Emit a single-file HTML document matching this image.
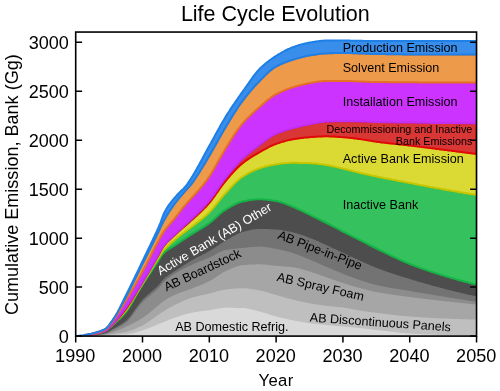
<!DOCTYPE html>
<html lang="en">
<head>
<meta charset="utf-8">
<title>Life Cycle Evolution</title>
<style>html,body{margin:0;padding:0;background:#fff}svg{display:block;will-change:transform;opacity:0.999}</style>
</head>
<body>
<svg width="500" height="391" viewBox="0 0 500 391" font-family="'Liberation Sans', Arial, sans-serif">
<rect width="500" height="391" fill="#ffffff"/>
<defs><clipPath id="ax"><rect x="75.5" y="32.0" width="401.0" height="304.0"/></clipPath></defs>
<g clip-path="url(#ax)" stroke-linejoin="round">
<polygon fill="#4d4d4d" points="75.5,336.0 76.5,336.0 77.5,336.0 78.5,336.0 79.5,336.0 80.5,336.0 81.5,336.0 82.5,336.0 83.5,336.0 84.5,336.0 85.5,336.0 86.5,336.0 87.5,336.0 88.5,334.8 89.5,334.7 90.5,334.6 91.5,334.5 92.5,334.3 93.5,334.1 94.5,334.0 95.5,333.8 96.5,333.6 97.5,333.4 98.5,333.2 99.5,332.9 100.5,332.6 101.5,332.3 102.5,332.0 103.5,331.6 104.5,331.2 105.5,330.7 106.5,330.2 107.5,329.5 108.5,328.7 109.5,327.8 110.5,326.9 111.5,325.9 112.5,325.0 113.5,324.2 114.5,323.3 115.5,322.5 116.5,321.6 117.5,320.7 118.5,319.8 119.5,318.9 120.5,318.0 121.5,317.0 122.5,316.0 123.5,314.9 124.5,313.8 125.5,312.6 126.5,311.3 127.5,309.9 128.5,308.4 129.5,306.8 130.5,305.2 131.5,303.6 132.5,301.9 133.5,300.1 134.5,298.4 135.5,296.6 136.5,294.9 137.5,293.1 138.5,291.4 139.5,289.7 140.5,288.0 141.5,286.5 142.5,284.9 143.5,283.3 144.5,281.8 145.5,280.3 146.5,278.8 147.5,277.3 148.5,275.8 149.5,274.3 150.5,272.8 151.5,271.3 152.5,269.8 153.5,268.3 154.5,266.8 155.5,265.3 156.5,263.7 157.5,262.2 158.5,260.7 159.5,259.0 160.5,257.3 161.5,255.7 162.5,254.4 163.5,253.3 164.5,252.4 165.5,251.5 166.5,250.7 167.5,250.0 168.5,249.3 169.5,248.7 170.5,248.1 171.5,247.5 172.5,246.9 173.5,246.3 174.5,245.6 175.5,245.0 176.5,244.3 177.5,243.6 178.5,242.9 179.5,242.3 180.5,241.6 181.5,240.9 182.5,240.3 183.5,239.6 184.5,239.0 185.5,238.3 186.5,237.7 187.5,237.0 188.5,236.4 189.5,235.7 190.5,235.1 191.5,234.4 192.5,233.8 193.5,233.2 194.5,232.5 195.5,231.9 196.5,231.3 197.5,230.7 198.5,230.1 199.5,229.5 200.5,228.9 201.5,228.3 202.5,227.7 203.5,227.1 204.5,226.4 205.5,225.8 206.5,225.1 207.5,224.4 208.5,223.7 209.5,223.0 210.5,222.2 211.5,221.4 212.5,220.6 213.5,219.7 214.5,218.8 215.5,217.9 216.5,217.0 217.5,216.1 218.5,215.2 219.5,214.3 220.5,213.4 221.5,212.6 222.5,211.8 223.5,211.1 224.5,210.4 225.5,209.8 226.5,209.1 227.5,208.5 228.5,207.9 229.5,207.3 230.5,206.7 231.5,206.1 232.5,205.6 233.5,205.0 234.5,204.5 235.5,204.0 236.5,203.5 237.5,203.1 238.5,202.7 239.5,202.3 240.5,202.0 241.5,201.7 242.5,201.5 243.5,201.3 244.5,201.1 245.5,200.9 246.5,200.7 247.5,200.5 248.5,200.3 249.5,200.1 250.5,200.0 251.5,199.8 252.5,199.7 253.5,199.5 254.5,199.4 255.5,199.4 256.5,199.3 257.5,199.2 258.5,199.2 259.5,199.2 260.5,199.2 261.5,199.2 262.5,199.3 263.5,199.4 264.5,199.4 265.5,199.5 266.5,199.6 267.5,199.7 268.5,199.9 269.5,200.0 270.5,200.1 271.5,200.3 272.5,200.4 273.5,200.6 274.5,200.7 275.5,200.9 276.5,201.1 277.5,201.3 278.5,201.5 279.5,201.7 280.5,202.0 281.5,202.3 282.5,202.7 283.5,203.0 284.5,203.4 285.5,203.8 286.5,204.2 287.5,204.6 288.5,205.0 289.5,205.4 290.5,205.8 291.5,206.2 292.5,206.6 293.5,207.0 294.5,207.5 295.5,207.9 296.5,208.3 297.5,208.8 298.5,209.3 299.5,209.8 300.5,210.2 301.5,210.7 302.5,211.2 303.5,211.7 304.5,212.2 305.5,212.7 306.5,213.2 307.5,213.7 308.5,214.2 309.5,214.7 310.5,215.2 311.5,215.7 312.5,216.2 313.5,216.7 314.5,217.1 315.5,217.6 316.5,218.1 317.5,218.6 318.5,219.0 319.5,219.5 320.5,220.0 321.5,220.5 322.5,221.0 323.5,221.5 324.5,222.0 325.5,222.5 326.5,223.0 327.5,223.5 328.5,224.0 329.5,224.5 330.5,225.0 331.5,225.5 332.5,226.1 333.5,226.6 334.5,227.1 335.5,227.6 336.5,228.2 337.5,228.7 338.5,229.2 339.5,229.7 340.5,230.3 341.5,230.8 342.5,231.3 343.5,231.8 344.5,232.3 345.5,232.8 346.5,233.3 347.5,233.8 348.5,234.3 349.5,234.8 350.5,235.4 351.5,235.9 352.5,236.4 353.5,236.8 354.5,237.3 355.5,237.8 356.5,238.4 357.5,238.9 358.5,239.4 359.5,239.9 360.5,240.4 361.5,240.9 362.5,241.4 363.5,241.9 364.5,242.4 365.5,242.9 366.5,243.4 367.5,244.0 368.5,244.5 369.5,245.0 370.5,245.5 371.5,246.0 372.5,246.5 373.5,247.0 374.5,247.5 375.5,248.0 376.5,248.5 377.5,249.0 378.5,249.5 379.5,250.0 380.5,250.5 381.5,251.0 382.5,251.4 383.5,251.9 384.5,252.4 385.5,252.9 386.5,253.4 387.5,253.9 388.5,254.4 389.5,254.9 390.5,255.4 391.5,255.8 392.5,256.3 393.5,256.8 394.5,257.3 395.5,257.7 396.5,258.2 397.5,258.7 398.5,259.1 399.5,259.6 400.5,260.0 401.5,260.5 402.5,260.9 403.5,261.4 404.5,261.8 405.5,262.2 406.5,262.6 407.5,263.0 408.5,263.5 409.5,263.9 410.5,264.3 411.5,264.6 412.5,265.0 413.5,265.4 414.5,265.8 415.5,266.2 416.5,266.5 417.5,266.9 418.5,267.3 419.5,267.7 420.5,268.0 421.5,268.4 422.5,268.7 423.5,269.1 424.5,269.4 425.5,269.8 426.5,270.1 427.5,270.5 428.5,270.8 429.5,271.1 430.5,271.5 431.5,271.8 432.5,272.1 433.5,272.4 434.5,272.8 435.5,273.1 436.5,273.4 437.5,273.7 438.5,274.0 439.5,274.4 440.5,274.7 441.5,275.0 442.5,275.3 443.5,275.6 444.5,275.9 445.5,276.2 446.5,276.5 447.5,276.8 448.5,277.1 449.5,277.4 450.5,277.7 451.5,278.0 452.5,278.2 453.5,278.5 454.5,278.8 455.5,279.1 456.5,279.4 457.5,279.7 458.5,279.9 459.5,280.2 460.5,280.5 461.5,280.8 462.5,281.0 463.5,281.3 464.5,281.6 465.5,281.8 466.5,282.1 467.5,282.3 468.5,282.6 469.5,282.9 470.5,283.1 471.5,283.4 472.5,283.6 473.5,283.9 474.5,284.1 475.5,284.3 476.5,284.6 479.5,336.0 75.5,336.0"/>
<polygon fill="#737373" points="75.5,336.0 76.5,336.0 77.5,336.0 78.5,336.0 79.5,336.0 80.5,336.0 81.5,336.0 82.5,336.0 83.5,336.0 84.5,336.0 85.5,336.0 86.5,336.0 87.5,336.0 88.5,335.9 89.5,335.8 90.5,335.7 91.5,335.7 92.5,335.5 93.5,335.4 94.5,335.3 95.5,335.2 96.5,335.1 97.5,334.9 98.5,334.8 99.5,334.6 100.5,334.4 101.5,334.2 102.5,334.0 103.5,333.7 104.5,333.4 105.5,333.1 106.5,332.8 107.5,332.4 108.5,331.8 109.5,331.2 110.5,330.6 111.5,329.9 112.5,329.3 113.5,328.7 114.5,328.1 115.5,327.5 116.5,326.9 117.5,326.4 118.5,325.8 119.5,325.2 120.5,324.6 121.5,324.0 122.5,323.3 123.5,322.6 124.5,321.9 125.5,321.1 126.5,320.2 127.5,319.2 128.5,318.2 129.5,317.0 130.5,315.7 131.5,314.4 132.5,313.1 133.5,311.7 134.5,310.3 135.5,308.8 136.5,307.4 137.5,306.0 138.5,304.7 139.5,303.4 140.5,302.1 141.5,300.9 142.5,299.8 143.5,298.8 144.5,297.8 145.5,296.9 146.5,295.9 147.5,295.0 148.5,294.2 149.5,293.3 150.5,292.5 151.5,291.6 152.5,290.8 153.5,289.9 154.5,289.0 155.5,288.1 156.5,287.2 157.5,286.2 158.5,285.2 159.5,284.1 160.5,282.9 161.5,281.6 162.5,280.3 163.5,279.2 164.5,278.3 165.5,277.5 166.5,276.7 167.5,275.9 168.5,275.2 169.5,274.5 170.5,273.9 171.5,273.2 172.5,272.6 173.5,272.0 174.5,271.3 175.5,270.7 176.5,270.0 177.5,269.3 178.5,268.7 179.5,268.0 180.5,267.4 181.5,266.7 182.5,266.1 183.5,265.4 184.5,264.8 185.5,264.2 186.5,263.6 187.5,262.9 188.5,262.3 189.5,261.7 190.5,261.1 191.5,260.6 192.5,260.0 193.5,259.4 194.5,258.9 195.5,258.3 196.5,257.8 197.5,257.3 198.5,256.8 199.5,256.3 200.5,255.8 201.5,255.3 202.5,254.8 203.5,254.3 204.5,253.7 205.5,253.2 206.5,252.7 207.5,252.1 208.5,251.6 209.5,251.0 210.5,250.4 211.5,249.8 212.5,249.2 213.5,248.5 214.5,247.9 215.5,247.2 216.5,246.5 217.5,245.8 218.5,245.2 219.5,244.5 220.5,243.8 221.5,243.2 222.5,242.5 223.5,241.9 224.5,241.3 225.5,240.7 226.5,240.1 227.5,239.6 228.5,239.0 229.5,238.4 230.5,237.8 231.5,237.2 232.5,236.6 233.5,236.0 234.5,235.5 235.5,234.9 236.5,234.4 237.5,233.9 238.5,233.5 239.5,233.0 240.5,232.7 241.5,232.3 242.5,232.0 243.5,231.8 244.5,231.5 245.5,231.2 246.5,231.0 247.5,230.7 248.5,230.5 249.5,230.3 250.5,230.0 251.5,229.8 252.5,229.6 253.5,229.5 254.5,229.3 255.5,229.2 256.5,229.1 257.5,229.1 258.5,229.0 259.5,229.0 260.5,229.0 261.5,229.0 262.5,229.0 263.5,229.0 264.5,229.1 265.5,229.1 266.5,229.1 267.5,229.1 268.5,229.2 269.5,229.2 270.5,229.2 271.5,229.3 272.5,229.3 273.5,229.4 274.5,229.4 275.5,229.5 276.5,229.5 277.5,229.6 278.5,229.7 279.5,229.8 280.5,229.9 281.5,230.1 282.5,230.2 283.5,230.4 284.5,230.6 285.5,230.8 286.5,231.0 287.5,231.2 288.5,231.4 289.5,231.6 290.5,231.8 291.5,232.0 292.5,232.3 293.5,232.5 294.5,232.7 295.5,233.0 296.5,233.3 297.5,233.6 298.5,233.9 299.5,234.2 300.5,234.5 301.5,234.9 302.5,235.2 303.5,235.6 304.5,236.0 305.5,236.3 306.5,236.7 307.5,237.1 308.5,237.5 309.5,237.8 310.5,238.2 311.5,238.6 312.5,239.0 313.5,239.4 314.5,239.8 315.5,240.3 316.5,240.7 317.5,241.1 318.5,241.6 319.5,242.0 320.5,242.5 321.5,242.9 322.5,243.4 323.5,243.8 324.5,244.3 325.5,244.7 326.5,245.2 327.5,245.6 328.5,246.1 329.5,246.5 330.5,247.0 331.5,247.5 332.5,247.9 333.5,248.4 334.5,248.9 335.5,249.3 336.5,249.8 337.5,250.3 338.5,250.8 339.5,251.2 340.5,251.7 341.5,252.2 342.5,252.6 343.5,253.1 344.5,253.6 345.5,254.0 346.5,254.5 347.5,255.0 348.5,255.4 349.5,255.9 350.5,256.4 351.5,256.8 352.5,257.3 353.5,257.8 354.5,258.2 355.5,258.7 356.5,259.1 357.5,259.6 358.5,260.0 359.5,260.5 360.5,260.9 361.5,261.4 362.5,261.8 363.5,262.3 364.5,262.7 365.5,263.2 366.5,263.7 367.5,264.1 368.5,264.6 369.5,265.0 370.5,265.4 371.5,265.9 372.5,266.3 373.5,266.7 374.5,267.1 375.5,267.5 376.5,267.9 377.5,268.3 378.5,268.7 379.5,269.0 380.5,269.4 381.5,269.8 382.5,270.1 383.5,270.5 384.5,270.8 385.5,271.2 386.5,271.5 387.5,271.9 388.5,272.2 389.5,272.6 390.5,272.9 391.5,273.2 392.5,273.6 393.5,273.9 394.5,274.2 395.5,274.6 396.5,274.9 397.5,275.2 398.5,275.5 399.5,275.8 400.5,276.2 401.5,276.5 402.5,276.8 403.5,277.1 404.5,277.4 405.5,277.7 406.5,278.0 407.5,278.3 408.5,278.6 409.5,278.9 410.5,279.3 411.5,279.6 412.5,279.9 413.5,280.2 414.5,280.5 415.5,280.8 416.5,281.1 417.5,281.4 418.5,281.7 419.5,282.0 420.5,282.3 421.5,282.6 422.5,282.8 423.5,283.1 424.5,283.4 425.5,283.7 426.5,284.0 427.5,284.3 428.5,284.6 429.5,284.8 430.5,285.1 431.5,285.4 432.5,285.7 433.5,285.9 434.5,286.2 435.5,286.5 436.5,286.8 437.5,287.0 438.5,287.3 439.5,287.6 440.5,287.8 441.5,288.1 442.5,288.3 443.5,288.6 444.5,288.9 445.5,289.1 446.5,289.4 447.5,289.6 448.5,289.9 449.5,290.1 450.5,290.4 451.5,290.6 452.5,290.9 453.5,291.1 454.5,291.4 455.5,291.6 456.5,291.9 457.5,292.1 458.5,292.3 459.5,292.6 460.5,292.8 461.5,293.0 462.5,293.3 463.5,293.5 464.5,293.7 465.5,294.0 466.5,294.2 467.5,294.4 468.5,294.7 469.5,294.9 470.5,295.1 471.5,295.3 472.5,295.5 473.5,295.8 474.5,296.0 475.5,296.2 476.5,296.4 479.5,336.0 75.5,336.0"/>
<polygon fill="#8c8c8c" points="75.5,336.0 76.5,336.0 77.5,336.0 78.5,336.0 79.5,336.0 80.5,336.0 81.5,336.0 82.5,336.0 83.5,336.0 84.5,336.0 85.5,336.0 86.5,336.0 87.5,336.0 88.5,335.9 89.5,335.9 90.5,335.8 91.5,335.7 92.5,335.6 93.5,335.5 94.5,335.4 95.5,335.3 96.5,335.2 97.5,335.1 98.5,334.9 99.5,334.8 100.5,334.6 101.5,334.4 102.5,334.2 103.5,334.0 104.5,333.8 105.5,333.5 106.5,333.2 107.5,332.9 108.5,332.4 109.5,331.9 110.5,331.3 111.5,330.8 112.5,330.2 113.5,329.7 114.5,329.2 115.5,328.7 116.5,328.2 117.5,327.7 118.5,327.3 119.5,326.7 120.5,326.2 121.5,325.7 122.5,325.1 123.5,324.5 124.5,323.8 125.5,323.1 126.5,322.3 127.5,321.4 128.5,320.3 129.5,319.2 130.5,318.0 131.5,316.7 132.5,315.4 133.5,314.0 134.5,312.6 135.5,311.2 136.5,309.8 137.5,308.4 138.5,307.1 139.5,305.8 140.5,304.6 141.5,303.4 142.5,302.3 143.5,301.3 144.5,300.4 145.5,299.4 146.5,298.5 147.5,297.7 148.5,296.8 149.5,296.0 150.5,295.2 151.5,294.3 152.5,293.5 153.5,292.7 154.5,291.8 155.5,290.9 156.5,290.0 157.5,289.1 158.5,288.1 159.5,287.0 160.5,285.8 161.5,284.5 162.5,283.3 163.5,282.2 164.5,281.3 165.5,280.4 166.5,279.5 167.5,278.7 168.5,277.9 169.5,277.2 170.5,276.4 171.5,275.7 172.5,275.1 173.5,274.4 174.5,273.8 175.5,273.2 176.5,272.5 177.5,272.0 178.5,271.4 179.5,270.8 180.5,270.3 181.5,269.8 182.5,269.2 183.5,268.7 184.5,268.2 185.5,267.7 186.5,267.3 187.5,266.8 188.5,266.3 189.5,265.9 190.5,265.4 191.5,264.9 192.5,264.5 193.5,264.0 194.5,263.6 195.5,263.2 196.5,262.7 197.5,262.3 198.5,261.9 199.5,261.5 200.5,261.1 201.5,260.7 202.5,260.3 203.5,259.9 204.5,259.5 205.5,259.1 206.5,258.7 207.5,258.3 208.5,257.9 209.5,257.5 210.5,257.0 211.5,256.5 212.5,256.0 213.5,255.5 214.5,254.9 215.5,254.4 216.5,253.8 217.5,253.3 218.5,252.8 219.5,252.3 220.5,251.8 221.5,251.4 222.5,251.0 223.5,250.6 224.5,250.3 225.5,250.1 226.5,249.9 227.5,249.7 228.5,249.5 229.5,249.4 230.5,249.3 231.5,249.1 232.5,249.0 233.5,248.9 234.5,248.8 235.5,248.7 236.5,248.6 237.5,248.5 238.5,248.4 239.5,248.3 240.5,248.2 241.5,248.1 242.5,248.0 243.5,247.9 244.5,247.8 245.5,247.7 246.5,247.6 247.5,247.5 248.5,247.4 249.5,247.2 250.5,247.1 251.5,247.0 252.5,246.9 253.5,246.9 254.5,246.8 255.5,246.7 256.5,246.7 257.5,246.6 258.5,246.6 259.5,246.6 260.5,246.6 261.5,246.7 262.5,246.7 263.5,246.8 264.5,246.9 265.5,247.0 266.5,247.2 267.5,247.3 268.5,247.5 269.5,247.6 270.5,247.8 271.5,248.0 272.5,248.2 273.5,248.4 274.5,248.5 275.5,248.7 276.5,248.9 277.5,249.1 278.5,249.3 279.5,249.5 280.5,249.7 281.5,249.9 282.5,250.2 283.5,250.4 284.5,250.7 285.5,250.9 286.5,251.2 287.5,251.5 288.5,251.8 289.5,252.0 290.5,252.3 291.5,252.6 292.5,252.9 293.5,253.2 294.5,253.6 295.5,253.9 296.5,254.3 297.5,254.6 298.5,255.0 299.5,255.4 300.5,255.8 301.5,256.2 302.5,256.6 303.5,257.0 304.5,257.5 305.5,257.9 306.5,258.3 307.5,258.7 308.5,259.1 309.5,259.5 310.5,259.9 311.5,260.4 312.5,260.8 313.5,261.2 314.5,261.6 315.5,262.1 316.5,262.5 317.5,262.9 318.5,263.4 319.5,263.8 320.5,264.3 321.5,264.7 322.5,265.1 323.5,265.6 324.5,266.0 325.5,266.4 326.5,266.9 327.5,267.3 328.5,267.7 329.5,268.1 330.5,268.6 331.5,269.0 332.5,269.4 333.5,269.8 334.5,270.3 335.5,270.7 336.5,271.1 337.5,271.5 338.5,271.9 339.5,272.4 340.5,272.8 341.5,273.2 342.5,273.6 343.5,274.0 344.5,274.4 345.5,274.8 346.5,275.2 347.5,275.5 348.5,275.9 349.5,276.3 350.5,276.7 351.5,277.1 352.5,277.5 353.5,277.9 354.5,278.2 355.5,278.6 356.5,279.0 357.5,279.3 358.5,279.6 359.5,280.0 360.5,280.3 361.5,280.7 362.5,281.0 363.5,281.3 364.5,281.6 365.5,282.0 366.5,282.3 367.5,282.6 368.5,282.9 369.5,283.2 370.5,283.5 371.5,283.8 372.5,284.1 373.5,284.3 374.5,284.6 375.5,284.8 376.5,285.1 377.5,285.3 378.5,285.5 379.5,285.7 380.5,285.9 381.5,286.1 382.5,286.3 383.5,286.5 384.5,286.7 385.5,286.9 386.5,287.1 387.5,287.3 388.5,287.5 389.5,287.7 390.5,287.8 391.5,288.0 392.5,288.2 393.5,288.3 394.5,288.5 395.5,288.7 396.5,288.8 397.5,289.0 398.5,289.2 399.5,289.3 400.5,289.5 401.5,289.6 402.5,289.8 403.5,290.0 404.5,290.1 405.5,290.3 406.5,290.5 407.5,290.6 408.5,290.8 409.5,291.0 410.5,291.1 411.5,291.3 412.5,291.5 413.5,291.7 414.5,291.8 415.5,292.0 416.5,292.2 417.5,292.3 418.5,292.5 419.5,292.7 420.5,292.8 421.5,293.0 422.5,293.2 423.5,293.3 424.5,293.5 425.5,293.6 426.5,293.8 427.5,294.0 428.5,294.1 429.5,294.3 430.5,294.5 431.5,294.6 432.5,294.8 433.5,295.0 434.5,295.1 435.5,295.3 436.5,295.4 437.5,295.6 438.5,295.8 439.5,295.9 440.5,296.1 441.5,296.2 442.5,296.4 443.5,296.6 444.5,296.7 445.5,296.9 446.5,297.1 447.5,297.2 448.5,297.4 449.5,297.5 450.5,297.7 451.5,297.9 452.5,298.0 453.5,298.2 454.5,298.3 455.5,298.5 456.5,298.7 457.5,298.8 458.5,299.0 459.5,299.1 460.5,299.3 461.5,299.4 462.5,299.6 463.5,299.8 464.5,299.9 465.5,300.1 466.5,300.2 467.5,300.4 468.5,300.5 469.5,300.7 470.5,300.9 471.5,301.0 472.5,301.2 473.5,301.3 474.5,301.5 475.5,301.6 476.5,301.8 479.5,336.0 75.5,336.0"/>
<polygon fill="#a6a6a6" points="75.5,336.0 76.5,336.0 77.5,336.0 78.5,336.0 79.5,336.0 80.5,336.0 81.5,336.0 82.5,336.0 83.5,336.0 84.5,336.0 85.5,336.0 86.5,336.0 87.5,336.0 88.5,335.9 89.5,335.9 90.5,335.8 91.5,335.8 92.5,335.7 93.5,335.6 94.5,335.6 95.5,335.5 96.5,335.4 97.5,335.3 98.5,335.3 99.5,335.2 100.5,335.0 101.5,334.9 102.5,334.8 103.5,334.7 104.5,334.5 105.5,334.3 106.5,334.2 107.5,333.9 108.5,333.6 109.5,333.3 110.5,332.9 111.5,332.5 112.5,332.2 113.5,331.8 114.5,331.4 115.5,331.1 116.5,330.7 117.5,330.3 118.5,330.0 119.5,329.6 120.5,329.2 121.5,328.8 122.5,328.4 123.5,327.9 124.5,327.5 125.5,327.1 126.5,326.6 127.5,326.1 128.5,325.7 129.5,325.2 130.5,324.7 131.5,324.2 132.5,323.7 133.5,323.1 134.5,322.6 135.5,322.1 136.5,321.5 137.5,320.9 138.5,320.4 139.5,319.8 140.5,319.2 141.5,318.5 142.5,317.9 143.5,317.2 144.5,316.5 145.5,315.8 146.5,315.1 147.5,314.3 148.5,313.5 149.5,312.7 150.5,311.9 151.5,311.1 152.5,310.2 153.5,309.4 154.5,308.6 155.5,307.7 156.5,306.9 157.5,306.1 158.5,305.2 159.5,304.4 160.5,303.6 161.5,302.7 162.5,301.9 163.5,301.2 164.5,300.5 165.5,299.9 166.5,299.2 167.5,298.7 168.5,298.1 169.5,297.5 170.5,297.0 171.5,296.5 172.5,296.0 173.5,295.5 174.5,295.1 175.5,294.6 176.5,294.2 177.5,293.8 178.5,293.3 179.5,293.0 180.5,292.6 181.5,292.2 182.5,291.9 183.5,291.5 184.5,291.2 185.5,290.8 186.5,290.5 187.5,290.1 188.5,289.8 189.5,289.4 190.5,289.0 191.5,288.7 192.5,288.3 193.5,287.9 194.5,287.5 195.5,287.1 196.5,286.7 197.5,286.3 198.5,285.9 199.5,285.5 200.5,285.1 201.5,284.7 202.5,284.3 203.5,283.9 204.5,283.5 205.5,283.0 206.5,282.6 207.5,282.1 208.5,281.6 209.5,281.1 210.5,280.6 211.5,280.0 212.5,279.4 213.5,278.8 214.5,278.1 215.5,277.4 216.5,276.7 217.5,276.1 218.5,275.4 219.5,274.7 220.5,274.0 221.5,273.4 222.5,272.8 223.5,272.2 224.5,271.7 225.5,271.2 226.5,270.7 227.5,270.3 228.5,269.8 229.5,269.4 230.5,268.9 231.5,268.5 232.5,268.1 233.5,267.7 234.5,267.3 235.5,266.9 236.5,266.6 237.5,266.2 238.5,266.0 239.5,265.7 240.5,265.5 241.5,265.3 242.5,265.2 243.5,265.1 244.5,265.0 245.5,264.9 246.5,264.9 247.5,264.8 248.5,264.7 249.5,264.6 250.5,264.6 251.5,264.5 252.5,264.5 253.5,264.4 254.5,264.4 255.5,264.4 256.5,264.3 257.5,264.3 258.5,264.3 259.5,264.3 260.5,264.3 261.5,264.3 262.5,264.4 263.5,264.5 264.5,264.5 265.5,264.6 266.5,264.7 267.5,264.9 268.5,265.0 269.5,265.1 270.5,265.2 271.5,265.3 272.5,265.4 273.5,265.6 274.5,265.7 275.5,265.8 276.5,265.8 277.5,265.9 278.5,266.0 279.5,266.1 280.5,266.1 281.5,266.2 282.5,266.3 283.5,266.4 284.5,266.4 285.5,266.5 286.5,266.6 287.5,266.7 288.5,266.7 289.5,266.8 290.5,266.9 291.5,267.1 292.5,267.2 293.5,267.3 294.5,267.5 295.5,267.7 296.5,267.9 297.5,268.1 298.5,268.3 299.5,268.6 300.5,268.8 301.5,269.1 302.5,269.4 303.5,269.7 304.5,270.0 305.5,270.3 306.5,270.6 307.5,270.9 308.5,271.2 309.5,271.5 310.5,271.8 311.5,272.1 312.5,272.5 313.5,272.8 314.5,273.1 315.5,273.5 316.5,273.8 317.5,274.1 318.5,274.5 319.5,274.9 320.5,275.2 321.5,275.6 322.5,275.9 323.5,276.3 324.5,276.6 325.5,277.0 326.5,277.3 327.5,277.7 328.5,278.0 329.5,278.4 330.5,278.7 331.5,279.1 332.5,279.4 333.5,279.8 334.5,280.2 335.5,280.5 336.5,280.9 337.5,281.2 338.5,281.6 339.5,281.9 340.5,282.2 341.5,282.6 342.5,282.9 343.5,283.2 344.5,283.5 345.5,283.9 346.5,284.2 347.5,284.5 348.5,284.8 349.5,285.1 350.5,285.4 351.5,285.7 352.5,286.0 353.5,286.3 354.5,286.6 355.5,286.9 356.5,287.2 357.5,287.4 358.5,287.7 359.5,288.0 360.5,288.3 361.5,288.5 362.5,288.8 363.5,289.0 364.5,289.3 365.5,289.6 366.5,289.8 367.5,290.1 368.5,290.3 369.5,290.5 370.5,290.8 371.5,291.0 372.5,291.2 373.5,291.4 374.5,291.7 375.5,291.9 376.5,292.0 377.5,292.2 378.5,292.4 379.5,292.6 380.5,292.8 381.5,292.9 382.5,293.1 383.5,293.3 384.5,293.4 385.5,293.6 386.5,293.8 387.5,293.9 388.5,294.1 389.5,294.2 390.5,294.4 391.5,294.5 392.5,294.7 393.5,294.8 394.5,295.0 395.5,295.1 396.5,295.2 397.5,295.4 398.5,295.5 399.5,295.6 400.5,295.8 401.5,295.9 402.5,296.0 403.5,296.2 404.5,296.3 405.5,296.4 406.5,296.6 407.5,296.7 408.5,296.8 409.5,297.0 410.5,297.1 411.5,297.2 412.5,297.4 413.5,297.5 414.5,297.6 415.5,297.8 416.5,297.9 417.5,298.0 418.5,298.1 419.5,298.3 420.5,298.4 421.5,298.5 422.5,298.6 423.5,298.7 424.5,298.9 425.5,299.0 426.5,299.1 427.5,299.2 428.5,299.3 429.5,299.5 430.5,299.6 431.5,299.7 432.5,299.8 433.5,299.9 434.5,300.0 435.5,300.1 436.5,300.3 437.5,300.4 438.5,300.5 439.5,300.6 440.5,300.7 441.5,300.8 442.5,300.9 443.5,301.0 444.5,301.2 445.5,301.3 446.5,301.4 447.5,301.5 448.5,301.6 449.5,301.7 450.5,301.8 451.5,301.9 452.5,302.0 453.5,302.1 454.5,302.2 455.5,302.4 456.5,302.5 457.5,302.6 458.5,302.7 459.5,302.8 460.5,302.9 461.5,303.0 462.5,303.1 463.5,303.2 464.5,303.3 465.5,303.4 466.5,303.5 467.5,303.6 468.5,303.7 469.5,303.8 470.5,303.9 471.5,304.0 472.5,304.1 473.5,304.2 474.5,304.3 475.5,304.4 476.5,304.5 479.5,336.0 75.5,336.0"/>
<polygon fill="#bfbfbf" points="75.5,336.0 76.5,336.0 77.5,336.0 78.5,336.0 79.5,336.0 80.5,336.0 81.5,336.0 82.5,336.0 83.5,336.0 84.5,336.0 85.5,336.0 86.5,336.0 87.5,336.0 88.5,336.0 89.5,335.9 90.5,335.9 91.5,335.9 92.5,335.8 93.5,335.8 94.5,335.7 95.5,335.7 96.5,335.7 97.5,335.6 98.5,335.6 99.5,335.5 100.5,335.5 101.5,335.4 102.5,335.4 103.5,335.3 104.5,335.2 105.5,335.2 106.5,335.1 107.5,335.0 108.5,334.8 109.5,334.6 110.5,334.4 111.5,334.3 112.5,334.1 113.5,333.9 114.5,333.8 115.5,333.6 116.5,333.5 117.5,333.3 118.5,333.2 119.5,333.1 120.5,332.9 121.5,332.8 122.5,332.6 123.5,332.4 124.5,332.2 125.5,332.0 126.5,331.8 127.5,331.5 128.5,331.3 129.5,331.0 130.5,330.6 131.5,330.3 132.5,329.9 133.5,329.5 134.5,329.1 135.5,328.7 136.5,328.2 137.5,327.8 138.5,327.3 139.5,326.9 140.5,326.4 141.5,325.9 142.5,325.4 143.5,324.9 144.5,324.3 145.5,323.7 146.5,323.1 147.5,322.5 148.5,321.8 149.5,321.1 150.5,320.4 151.5,319.6 152.5,318.9 153.5,318.2 154.5,317.5 155.5,316.7 156.5,316.0 157.5,315.3 158.5,314.7 159.5,314.0 160.5,313.3 161.5,312.7 162.5,312.1 163.5,311.4 164.5,310.8 165.5,310.2 166.5,309.6 167.5,309.0 168.5,308.4 169.5,307.9 170.5,307.3 171.5,306.7 172.5,306.2 173.5,305.6 174.5,305.1 175.5,304.6 176.5,304.1 177.5,303.7 178.5,303.2 179.5,302.7 180.5,302.2 181.5,301.8 182.5,301.3 183.5,300.9 184.5,300.4 185.5,300.0 186.5,299.6 187.5,299.2 188.5,298.8 189.5,298.5 190.5,298.1 191.5,297.8 192.5,297.5 193.5,297.2 194.5,296.9 195.5,296.7 196.5,296.4 197.5,296.2 198.5,295.9 199.5,295.7 200.5,295.5 201.5,295.3 202.5,295.1 203.5,294.9 204.5,294.6 205.5,294.4 206.5,294.2 207.5,294.0 208.5,293.8 209.5,293.5 210.5,293.3 211.5,293.0 212.5,292.7 213.5,292.4 214.5,292.2 215.5,291.9 216.5,291.6 217.5,291.3 218.5,291.0 219.5,290.8 220.5,290.5 221.5,290.3 222.5,290.1 223.5,289.9 224.5,289.7 225.5,289.5 226.5,289.4 227.5,289.3 228.5,289.2 229.5,289.1 230.5,289.0 231.5,288.9 232.5,288.8 233.5,288.7 234.5,288.6 235.5,288.5 236.5,288.4 237.5,288.4 238.5,288.3 239.5,288.3 240.5,288.2 241.5,288.2 242.5,288.2 243.5,288.2 244.5,288.2 245.5,288.3 246.5,288.4 247.5,288.5 248.5,288.6 249.5,288.7 250.5,288.9 251.5,289.0 252.5,289.2 253.5,289.3 254.5,289.5 255.5,289.7 256.5,289.9 257.5,290.1 258.5,290.3 259.5,290.4 260.5,290.6 261.5,290.8 262.5,291.1 263.5,291.3 264.5,291.6 265.5,291.9 266.5,292.2 267.5,292.5 268.5,292.8 269.5,293.1 270.5,293.4 271.5,293.7 272.5,294.0 273.5,294.3 274.5,294.6 275.5,294.9 276.5,295.1 277.5,295.4 278.5,295.7 279.5,296.0 280.5,296.3 281.5,296.6 282.5,296.8 283.5,297.1 284.5,297.4 285.5,297.7 286.5,298.0 287.5,298.2 288.5,298.5 289.5,298.8 290.5,299.0 291.5,299.3 292.5,299.5 293.5,299.8 294.5,300.0 295.5,300.3 296.5,300.5 297.5,300.8 298.5,301.0 299.5,301.2 300.5,301.5 301.5,301.7 302.5,301.9 303.5,302.1 304.5,302.3 305.5,302.5 306.5,302.7 307.5,302.9 308.5,303.1 309.5,303.3 310.5,303.5 311.5,303.7 312.5,303.8 313.5,304.0 314.5,304.2 315.5,304.3 316.5,304.5 317.5,304.6 318.5,304.8 319.5,304.9 320.5,305.1 321.5,305.2 322.5,305.3 323.5,305.5 324.5,305.6 325.5,305.7 326.5,305.8 327.5,306.0 328.5,306.1 329.5,306.2 330.5,306.3 331.5,306.4 332.5,306.5 333.5,306.5 334.5,306.6 335.5,306.7 336.5,306.8 337.5,306.9 338.5,307.0 339.5,307.1 340.5,307.2 341.5,307.3 342.5,307.5 343.5,307.6 344.5,307.7 345.5,307.9 346.5,308.1 347.5,308.2 348.5,308.4 349.5,308.6 350.5,308.8 351.5,309.0 352.5,309.2 353.5,309.4 354.5,309.6 355.5,309.8 356.5,310.0 357.5,310.2 358.5,310.3 359.5,310.5 360.5,310.6 361.5,310.8 362.5,310.9 363.5,311.1 364.5,311.2 365.5,311.4 366.5,311.5 367.5,311.7 368.5,311.8 369.5,311.9 370.5,312.1 371.5,312.2 372.5,312.3 373.5,312.5 374.5,312.6 375.5,312.7 376.5,312.8 377.5,313.0 378.5,313.1 379.5,313.2 380.5,313.3 381.5,313.5 382.5,313.6 383.5,313.7 384.5,313.8 385.5,314.0 386.5,314.1 387.5,314.2 388.5,314.3 389.5,314.4 390.5,314.6 391.5,314.7 392.5,314.8 393.5,314.9 394.5,315.0 395.5,315.1 396.5,315.2 397.5,315.4 398.5,315.5 399.5,315.6 400.5,315.7 401.5,315.8 402.5,315.9 403.5,316.0 404.5,316.1 405.5,316.2 406.5,316.2 407.5,316.3 408.5,316.4 409.5,316.5 410.5,316.6 411.5,316.6 412.5,316.7 413.5,316.8 414.5,316.9 415.5,316.9 416.5,317.0 417.5,317.1 418.5,317.1 419.5,317.2 420.5,317.3 421.5,317.4 422.5,317.4 423.5,317.5 424.5,317.5 425.5,317.6 426.5,317.7 427.5,317.7 428.5,317.8 429.5,317.8 430.5,317.9 431.5,318.0 432.5,318.0 433.5,318.1 434.5,318.1 435.5,318.2 436.5,318.2 437.5,318.3 438.5,318.3 439.5,318.3 440.5,318.4 441.5,318.4 442.5,318.5 443.5,318.5 444.5,318.6 445.5,318.6 446.5,318.6 447.5,318.7 448.5,318.7 449.5,318.7 450.5,318.8 451.5,318.8 452.5,318.9 453.5,318.9 454.5,318.9 455.5,319.0 456.5,319.0 457.5,319.0 458.5,319.1 459.5,319.1 460.5,319.1 461.5,319.2 462.5,319.2 463.5,319.2 464.5,319.2 465.5,319.3 466.5,319.3 467.5,319.3 468.5,319.3 469.5,319.4 470.5,319.4 471.5,319.4 472.5,319.4 473.5,319.4 474.5,319.5 475.5,319.5 476.5,319.5 479.5,336.0 75.5,336.0"/>
<polygon fill="#d9d9d9" points="75.5,336.0 76.5,336.0 77.5,336.0 78.5,336.0 79.5,336.0 80.5,336.0 81.5,336.0 82.5,336.0 83.5,336.0 84.5,336.0 85.5,336.0 86.5,336.0 87.5,336.0 88.5,336.0 89.5,336.0 90.5,336.0 91.5,336.0 92.5,335.9 93.5,335.9 94.5,335.9 95.5,335.9 96.5,335.9 97.5,335.9 98.5,335.8 99.5,335.8 100.5,335.8 101.5,335.8 102.5,335.7 103.5,335.7 104.5,335.7 105.5,335.6 106.5,335.6 107.5,335.5 108.5,335.4 109.5,335.3 110.5,335.2 111.5,335.1 112.5,335.0 113.5,335.0 114.5,334.9 115.5,334.8 116.5,334.8 117.5,334.8 118.5,334.7 119.5,334.7 120.5,334.6 121.5,334.6 122.5,334.5 123.5,334.5 124.5,334.4 125.5,334.3 126.5,334.2 127.5,334.1 128.5,333.9 129.5,333.8 130.5,333.6 131.5,333.4 132.5,333.2 133.5,332.9 134.5,332.7 135.5,332.4 136.5,332.2 137.5,331.9 138.5,331.6 139.5,331.3 140.5,331.0 141.5,330.7 142.5,330.5 143.5,330.1 144.5,329.8 145.5,329.5 146.5,329.1 147.5,328.7 148.5,328.3 149.5,327.9 150.5,327.5 151.5,327.1 152.5,326.7 153.5,326.2 154.5,325.8 155.5,325.4 156.5,325.0 157.5,324.5 158.5,324.1 159.5,323.7 160.5,323.3 161.5,322.9 162.5,322.5 163.5,322.1 164.5,321.7 165.5,321.3 166.5,320.9 167.5,320.5 168.5,320.0 169.5,319.6 170.5,319.2 171.5,318.8 172.5,318.5 173.5,318.1 174.5,317.7 175.5,317.4 176.5,317.1 177.5,316.7 178.5,316.4 179.5,316.1 180.5,315.8 181.5,315.4 182.5,315.1 183.5,314.8 184.5,314.5 185.5,314.3 186.5,314.0 187.5,313.7 188.5,313.5 189.5,313.2 190.5,313.0 191.5,312.8 192.5,312.6 193.5,312.4 194.5,312.2 195.5,312.1 196.5,311.9 197.5,311.8 198.5,311.6 199.5,311.5 200.5,311.3 201.5,311.2 202.5,311.1 203.5,311.0 204.5,310.8 205.5,310.7 206.5,310.6 207.5,310.4 208.5,310.3 209.5,310.2 210.5,310.0 211.5,309.8 212.5,309.6 213.5,309.5 214.5,309.3 215.5,309.1 216.5,308.9 217.5,308.7 218.5,308.5 219.5,308.4 220.5,308.2 221.5,308.1 222.5,308.0 223.5,307.9 224.5,307.8 225.5,307.8 226.5,307.8 227.5,307.8 228.5,307.8 229.5,307.8 230.5,307.8 231.5,307.8 232.5,307.8 233.5,307.8 234.5,307.9 235.5,307.9 236.5,307.9 237.5,307.9 238.5,307.9 239.5,307.9 240.5,308.0 241.5,308.0 242.5,308.0 243.5,308.0 244.5,308.1 245.5,308.2 246.5,308.4 247.5,308.5 248.5,308.7 249.5,308.9 250.5,309.2 251.5,309.4 252.5,309.7 253.5,310.0 254.5,310.2 255.5,310.5 256.5,310.8 257.5,311.0 258.5,311.3 259.5,311.6 260.5,311.8 261.5,312.1 262.5,312.4 263.5,312.7 264.5,313.0 265.5,313.3 266.5,313.6 267.5,313.9 268.5,314.3 269.5,314.6 270.5,314.9 271.5,315.2 272.5,315.5 273.5,315.8 274.5,316.1 275.5,316.4 276.5,316.6 277.5,316.9 278.5,317.1 279.5,317.4 280.5,317.6 281.5,317.9 282.5,318.1 283.5,318.3 284.5,318.6 285.5,318.8 286.5,319.0 287.5,319.2 288.5,319.4 289.5,319.6 290.5,319.9 291.5,320.1 292.5,320.3 293.5,320.5 294.5,320.7 295.5,320.8 296.5,321.0 297.5,321.2 298.5,321.4 299.5,321.6 300.5,321.8 301.5,322.0 302.5,322.1 303.5,322.3 304.5,322.5 305.5,322.6 306.5,322.8 307.5,322.9 308.5,323.1 309.5,323.2 310.5,323.3 311.5,323.5 312.5,323.6 313.5,323.7 314.5,323.8 315.5,323.9 316.5,324.0 317.5,324.1 318.5,324.2 319.5,324.3 320.5,324.4 321.5,324.5 322.5,324.6 323.5,324.7 324.5,324.8 325.5,324.9 326.5,325.0 327.5,325.1 328.5,325.2 329.5,325.3 330.5,325.4 331.5,325.5 332.5,325.6 333.5,325.7 334.5,325.8 335.5,325.9 336.5,325.9 337.5,326.0 338.5,326.1 339.5,326.2 340.5,326.3 341.5,326.4 342.5,326.5 343.5,326.6 344.5,326.6 345.5,326.7 346.5,326.8 347.5,326.9 348.5,327.0 349.5,327.1 350.5,327.2 351.5,327.3 352.5,327.3 353.5,327.4 354.5,327.5 355.5,327.6 356.5,327.7 357.5,327.8 358.5,327.9 359.5,328.0 360.5,328.1 361.5,328.2 362.5,328.3 363.5,328.4 364.5,328.6 365.5,328.7 366.5,328.8 367.5,328.9 368.5,329.1 369.5,329.2 370.5,329.3 371.5,329.4 372.5,329.6 373.5,329.7 374.5,329.8 375.5,329.9 376.5,330.0 377.5,330.1 378.5,330.3 379.5,330.4 380.5,330.5 381.5,330.6 382.5,330.7 383.5,330.8 384.5,331.0 385.5,331.1 386.5,331.2 387.5,331.3 388.5,331.4 389.5,331.6 390.5,331.7 391.5,331.8 392.5,331.9 393.5,332.0 394.5,332.1 395.5,332.2 396.5,332.3 397.5,332.5 398.5,332.6 399.5,332.7 400.5,332.8 401.5,332.9 402.5,332.9 403.5,333.0 404.5,333.1 405.5,333.2 406.5,333.3 407.5,333.4 408.5,333.4 409.5,333.5 410.5,333.6 411.5,333.6 412.5,333.7 413.5,333.7 414.5,333.8 415.5,333.9 416.5,333.9 417.5,334.0 418.5,334.0 419.5,334.1 420.5,334.1 421.5,334.2 422.5,334.2 423.5,334.3 424.5,334.3 425.5,334.4 426.5,334.4 427.5,334.5 428.5,334.5 429.5,334.6 430.5,334.6 431.5,334.6 432.5,334.7 433.5,334.7 434.5,334.8 435.5,334.8 436.5,334.8 437.5,334.9 438.5,334.9 439.5,334.9 440.5,334.9 441.5,335.0 442.5,335.0 443.5,335.0 444.5,335.0 445.5,335.1 446.5,335.1 447.5,335.1 448.5,335.1 449.5,335.1 450.5,335.2 451.5,335.2 452.5,335.2 453.5,335.2 454.5,335.2 455.5,335.3 456.5,335.3 457.5,335.3 458.5,335.3 459.5,335.3 460.5,335.4 461.5,335.4 462.5,335.4 463.5,335.4 464.5,335.4 465.5,335.4 466.5,335.4 467.5,335.5 468.5,335.5 469.5,335.5 470.5,335.5 471.5,335.5 472.5,335.5 473.5,335.5 474.5,335.5 475.5,335.5 476.5,335.5 479.5,336.0 75.5,336.0"/>
<polygon fill="#35c25e" stroke="#16b446" stroke-width="2.0" points="75.5,336.0 76.5,336.0 77.5,336.0 78.5,336.0 79.5,336.0 80.5,336.0 81.5,336.0 82.5,336.0 83.5,336.0 84.5,336.0 85.5,336.0 86.5,336.0 87.5,336.0 88.5,334.8 89.5,334.7 90.5,334.6 91.5,334.4 92.5,334.2 93.5,334.1 94.5,333.9 95.5,333.7 96.5,333.5 97.5,333.3 98.5,333.0 99.5,332.8 100.5,332.5 101.5,332.2 102.5,331.9 103.5,331.5 104.5,331.1 105.5,330.6 106.5,330.1 107.5,329.4 108.5,328.6 109.5,327.6 110.5,326.7 111.5,325.7 112.5,324.7 113.5,323.8 114.5,322.8 115.5,321.9 116.5,320.9 117.5,319.9 118.5,318.9 119.5,317.9 120.5,316.8 121.5,315.7 122.5,314.6 123.5,313.4 124.5,312.2 125.5,310.9 126.5,309.6 127.5,308.2 128.5,306.7 129.5,305.2 130.5,303.7 131.5,302.1 132.5,300.4 133.5,298.8 134.5,297.1 135.5,295.4 136.5,293.7 137.5,292.0 138.5,290.4 139.5,288.7 140.5,287.1 141.5,285.4 142.5,283.8 143.5,282.2 144.5,280.6 145.5,279.0 146.5,277.3 147.5,275.7 148.5,274.1 149.5,272.4 150.5,270.8 151.5,269.1 152.5,267.5 153.5,265.9 154.5,264.3 155.5,262.7 156.5,261.1 157.5,259.5 158.5,258.0 159.5,256.4 160.5,254.8 161.5,253.3 162.5,251.9 163.5,250.7 164.5,249.6 165.5,248.5 166.5,247.4 167.5,246.4 168.5,245.5 169.5,244.5 170.5,243.6 171.5,242.7 172.5,241.9 173.5,241.0 174.5,240.2 175.5,239.3 176.5,238.5 177.5,237.6 178.5,236.8 179.5,236.0 180.5,235.3 181.5,234.5 182.5,233.7 183.5,233.0 184.5,232.3 185.5,231.5 186.5,230.8 187.5,230.0 188.5,229.3 189.5,228.5 190.5,227.8 191.5,227.0 192.5,226.2 193.5,225.4 194.5,224.7 195.5,223.9 196.5,223.1 197.5,222.4 198.5,221.6 199.5,220.9 200.5,220.1 201.5,219.3 202.5,218.5 203.5,217.7 204.5,216.8 205.5,216.0 206.5,215.1 207.5,214.2 208.5,213.2 209.5,212.3 210.5,211.2 211.5,210.1 212.5,208.9 213.5,207.8 214.5,206.5 215.5,205.3 216.5,204.1 217.5,202.8 218.5,201.5 219.5,200.3 220.5,199.0 221.5,197.8 222.5,196.6 223.5,195.4 224.5,194.3 225.5,193.2 226.5,192.2 227.5,191.1 228.5,190.0 229.5,188.9 230.5,187.8 231.5,186.7 232.5,185.7 233.5,184.6 234.5,183.6 235.5,182.6 236.5,181.7 237.5,180.8 238.5,179.9 239.5,179.0 240.5,178.3 241.5,177.5 242.5,176.9 243.5,176.2 244.5,175.6 245.5,175.0 246.5,174.4 247.5,173.8 248.5,173.2 249.5,172.7 250.5,172.2 251.5,171.7 252.5,171.2 253.5,170.7 254.5,170.3 255.5,169.9 256.5,169.5 257.5,169.1 258.5,168.7 259.5,168.4 260.5,168.0 261.5,167.7 262.5,167.4 263.5,167.1 264.5,166.8 265.5,166.5 266.5,166.2 267.5,166.0 268.5,165.7 269.5,165.5 270.5,165.3 271.5,165.1 272.5,164.9 273.5,164.7 274.5,164.5 275.5,164.4 276.5,164.2 277.5,164.1 278.5,164.0 279.5,163.8 280.5,163.7 281.5,163.6 282.5,163.5 283.5,163.4 284.5,163.3 285.5,163.2 286.5,163.1 287.5,163.0 288.5,162.9 289.5,162.9 290.5,162.8 291.5,162.8 292.5,162.8 293.5,162.8 294.5,162.8 295.5,162.8 296.5,162.8 297.5,162.8 298.5,162.9 299.5,162.9 300.5,162.9 301.5,162.9 302.5,163.0 303.5,163.0 304.5,163.0 305.5,163.1 306.5,163.1 307.5,163.1 308.5,163.2 309.5,163.2 310.5,163.2 311.5,163.3 312.5,163.4 313.5,163.4 314.5,163.5 315.5,163.6 316.5,163.7 317.5,163.8 318.5,164.0 319.5,164.1 320.5,164.2 321.5,164.3 322.5,164.5 323.5,164.6 324.5,164.8 325.5,164.9 326.5,165.0 327.5,165.2 328.5,165.4 329.5,165.6 330.5,165.8 331.5,166.0 332.5,166.2 333.5,166.4 334.5,166.6 335.5,166.9 336.5,167.1 337.5,167.4 338.5,167.6 339.5,167.9 340.5,168.1 341.5,168.4 342.5,168.6 343.5,168.8 344.5,169.1 345.5,169.3 346.5,169.6 347.5,169.8 348.5,170.0 349.5,170.3 350.5,170.5 351.5,170.8 352.5,171.0 353.5,171.3 354.5,171.5 355.5,171.8 356.5,172.0 357.5,172.3 358.5,172.5 359.5,172.8 360.5,173.0 361.5,173.2 362.5,173.5 363.5,173.7 364.5,173.9 365.5,174.1 366.5,174.4 367.5,174.6 368.5,174.8 369.5,175.0 370.5,175.2 371.5,175.5 372.5,175.7 373.5,175.9 374.5,176.1 375.5,176.3 376.5,176.5 377.5,176.7 378.5,176.9 379.5,177.1 380.5,177.4 381.5,177.6 382.5,177.8 383.5,178.0 384.5,178.2 385.5,178.4 386.5,178.6 387.5,178.7 388.5,178.9 389.5,179.1 390.5,179.3 391.5,179.5 392.5,179.7 393.5,179.9 394.5,180.1 395.5,180.3 396.5,180.5 397.5,180.7 398.5,180.9 399.5,181.0 400.5,181.2 401.5,181.4 402.5,181.6 403.5,181.8 404.5,182.0 405.5,182.2 406.5,182.4 407.5,182.6 408.5,182.8 409.5,182.9 410.5,183.1 411.5,183.3 412.5,183.5 413.5,183.7 414.5,183.9 415.5,184.1 416.5,184.3 417.5,184.5 418.5,184.7 419.5,184.9 420.5,185.1 421.5,185.3 422.5,185.4 423.5,185.6 424.5,185.8 425.5,186.0 426.5,186.2 427.5,186.4 428.5,186.6 429.5,186.8 430.5,187.0 431.5,187.2 432.5,187.3 433.5,187.5 434.5,187.7 435.5,187.9 436.5,188.1 437.5,188.3 438.5,188.5 439.5,188.6 440.5,188.8 441.5,189.0 442.5,189.2 443.5,189.4 444.5,189.5 445.5,189.7 446.5,189.9 447.5,190.1 448.5,190.2 449.5,190.4 450.5,190.6 451.5,190.8 452.5,190.9 453.5,191.1 454.5,191.3 455.5,191.5 456.5,191.6 457.5,191.8 458.5,192.0 459.5,192.2 460.5,192.3 461.5,192.5 462.5,192.7 463.5,192.8 464.5,193.0 465.5,193.2 466.5,193.3 467.5,193.5 468.5,193.7 469.5,193.8 470.5,194.0 471.5,194.2 472.5,194.3 473.5,194.5 474.5,194.7 475.5,194.8 476.5,195.0 476.5,284.6 475.5,284.3 474.5,284.1 473.5,283.9 472.5,283.6 471.5,283.4 470.5,283.1 469.5,282.9 468.5,282.6 467.5,282.3 466.5,282.1 465.5,281.8 464.5,281.6 463.5,281.3 462.5,281.0 461.5,280.8 460.5,280.5 459.5,280.2 458.5,279.9 457.5,279.7 456.5,279.4 455.5,279.1 454.5,278.8 453.5,278.5 452.5,278.2 451.5,278.0 450.5,277.7 449.5,277.4 448.5,277.1 447.5,276.8 446.5,276.5 445.5,276.2 444.5,275.9 443.5,275.6 442.5,275.3 441.5,275.0 440.5,274.7 439.5,274.4 438.5,274.0 437.5,273.7 436.5,273.4 435.5,273.1 434.5,272.8 433.5,272.4 432.5,272.1 431.5,271.8 430.5,271.5 429.5,271.1 428.5,270.8 427.5,270.5 426.5,270.1 425.5,269.8 424.5,269.4 423.5,269.1 422.5,268.7 421.5,268.4 420.5,268.0 419.5,267.7 418.5,267.3 417.5,266.9 416.5,266.5 415.5,266.2 414.5,265.8 413.5,265.4 412.5,265.0 411.5,264.6 410.5,264.3 409.5,263.9 408.5,263.5 407.5,263.0 406.5,262.6 405.5,262.2 404.5,261.8 403.5,261.4 402.5,260.9 401.5,260.5 400.5,260.0 399.5,259.6 398.5,259.1 397.5,258.7 396.5,258.2 395.5,257.7 394.5,257.3 393.5,256.8 392.5,256.3 391.5,255.8 390.5,255.4 389.5,254.9 388.5,254.4 387.5,253.9 386.5,253.4 385.5,252.9 384.5,252.4 383.5,251.9 382.5,251.4 381.5,251.0 380.5,250.5 379.5,250.0 378.5,249.5 377.5,249.0 376.5,248.5 375.5,248.0 374.5,247.5 373.5,247.0 372.5,246.5 371.5,246.0 370.5,245.5 369.5,245.0 368.5,244.5 367.5,244.0 366.5,243.4 365.5,242.9 364.5,242.4 363.5,241.9 362.5,241.4 361.5,240.9 360.5,240.4 359.5,239.9 358.5,239.4 357.5,238.9 356.5,238.4 355.5,237.8 354.5,237.3 353.5,236.8 352.5,236.4 351.5,235.9 350.5,235.4 349.5,234.8 348.5,234.3 347.5,233.8 346.5,233.3 345.5,232.8 344.5,232.3 343.5,231.8 342.5,231.3 341.5,230.8 340.5,230.3 339.5,229.7 338.5,229.2 337.5,228.7 336.5,228.2 335.5,227.6 334.5,227.1 333.5,226.6 332.5,226.1 331.5,225.5 330.5,225.0 329.5,224.5 328.5,224.0 327.5,223.5 326.5,223.0 325.5,222.5 324.5,222.0 323.5,221.5 322.5,221.0 321.5,220.5 320.5,220.0 319.5,219.5 318.5,219.0 317.5,218.6 316.5,218.1 315.5,217.6 314.5,217.1 313.5,216.7 312.5,216.2 311.5,215.7 310.5,215.2 309.5,214.7 308.5,214.2 307.5,213.7 306.5,213.2 305.5,212.7 304.5,212.2 303.5,211.7 302.5,211.2 301.5,210.7 300.5,210.2 299.5,209.8 298.5,209.3 297.5,208.8 296.5,208.3 295.5,207.9 294.5,207.5 293.5,207.0 292.5,206.6 291.5,206.2 290.5,205.8 289.5,205.4 288.5,205.0 287.5,204.6 286.5,204.2 285.5,203.8 284.5,203.4 283.5,203.0 282.5,202.7 281.5,202.3 280.5,202.0 279.5,201.7 278.5,201.5 277.5,201.3 276.5,201.1 275.5,200.9 274.5,200.7 273.5,200.6 272.5,200.4 271.5,200.3 270.5,200.1 269.5,200.0 268.5,199.9 267.5,199.7 266.5,199.6 265.5,199.5 264.5,199.4 263.5,199.4 262.5,199.3 261.5,199.2 260.5,199.2 259.5,199.2 258.5,199.2 257.5,199.2 256.5,199.3 255.5,199.4 254.5,199.4 253.5,199.5 252.5,199.7 251.5,199.8 250.5,200.0 249.5,200.1 248.5,200.3 247.5,200.5 246.5,200.7 245.5,200.9 244.5,201.1 243.5,201.3 242.5,201.5 241.5,201.7 240.5,202.0 239.5,202.3 238.5,202.7 237.5,203.1 236.5,203.5 235.5,204.0 234.5,204.5 233.5,205.0 232.5,205.6 231.5,206.1 230.5,206.7 229.5,207.3 228.5,207.9 227.5,208.5 226.5,209.1 225.5,209.8 224.5,210.4 223.5,211.1 222.5,211.8 221.5,212.6 220.5,213.4 219.5,214.3 218.5,215.2 217.5,216.1 216.5,217.0 215.5,217.9 214.5,218.8 213.5,219.7 212.5,220.6 211.5,221.4 210.5,222.2 209.5,223.0 208.5,223.7 207.5,224.4 206.5,225.1 205.5,225.8 204.5,226.4 203.5,227.1 202.5,227.7 201.5,228.3 200.5,228.9 199.5,229.5 198.5,230.1 197.5,230.7 196.5,231.3 195.5,231.9 194.5,232.5 193.5,233.2 192.5,233.8 191.5,234.4 190.5,235.1 189.5,235.7 188.5,236.4 187.5,237.0 186.5,237.7 185.5,238.3 184.5,239.0 183.5,239.6 182.5,240.3 181.5,240.9 180.5,241.6 179.5,242.3 178.5,242.9 177.5,243.6 176.5,244.3 175.5,245.0 174.5,245.6 173.5,246.3 172.5,246.9 171.5,247.5 170.5,248.1 169.5,248.7 168.5,249.3 167.5,250.0 166.5,250.7 165.5,251.5 164.5,252.4 163.5,253.3 162.5,254.4 161.5,255.7 160.5,257.3 159.5,259.0 158.5,260.7 157.5,262.2 156.5,263.7 155.5,265.3 154.5,266.8 153.5,268.3 152.5,269.8 151.5,271.3 150.5,272.8 149.5,274.3 148.5,275.8 147.5,277.3 146.5,278.8 145.5,280.3 144.5,281.8 143.5,283.3 142.5,284.9 141.5,286.5 140.5,288.0 139.5,289.7 138.5,291.4 137.5,293.1 136.5,294.9 135.5,296.6 134.5,298.4 133.5,300.1 132.5,301.9 131.5,303.6 130.5,305.2 129.5,306.8 128.5,308.4 127.5,309.9 126.5,311.3 125.5,312.6 124.5,313.8 123.5,314.9 122.5,316.0 121.5,317.0 120.5,318.0 119.5,318.9 118.5,319.8 117.5,320.7 116.5,321.6 115.5,322.5 114.5,323.3 113.5,324.2 112.5,325.0 111.5,325.9 110.5,326.9 109.5,327.8 108.5,328.7 107.5,329.5 106.5,330.2 105.5,330.7 104.5,331.2 103.5,331.6 102.5,332.0 101.5,332.3 100.5,332.6 99.5,332.9 98.5,333.2 97.5,333.4 96.5,333.6 95.5,333.8 94.5,334.0 93.5,334.1 92.5,334.3 91.5,334.5 90.5,334.6 89.5,334.7 88.5,334.8 87.5,336.0 86.5,336.0 85.5,336.0 84.5,336.0 83.5,336.0 82.5,336.0 81.5,336.0 80.5,336.0 79.5,336.0 78.5,336.0 77.5,336.0 76.5,336.0 75.5,336.0"/>
<polygon fill="#dbd933" stroke="#c6c600" stroke-width="2.0" points="75.5,336.0 76.5,336.0 77.5,336.0 78.5,336.0 79.5,336.0 80.5,336.0 81.5,336.0 82.5,336.0 83.5,336.0 84.5,336.0 85.5,336.0 86.5,336.0 87.5,336.0 88.5,334.8 89.5,334.7 90.5,334.5 91.5,334.4 92.5,334.2 93.5,334.0 94.5,333.8 95.5,333.6 96.5,333.4 97.5,333.2 98.5,332.9 99.5,332.7 100.5,332.4 101.5,332.1 102.5,331.8 103.5,331.4 104.5,331.0 105.5,330.5 106.5,330.0 107.5,329.3 108.5,328.4 109.5,327.4 110.5,326.4 111.5,325.4 112.5,324.4 113.5,323.4 114.5,322.4 115.5,321.4 116.5,320.3 117.5,319.2 118.5,318.1 119.5,317.0 120.5,315.8 121.5,314.6 122.5,313.4 123.5,312.1 124.5,310.8 125.5,309.5 126.5,308.1 127.5,306.7 128.5,305.2 129.5,303.7 130.5,302.1 131.5,300.6 132.5,298.9 133.5,297.3 134.5,295.6 135.5,294.0 136.5,292.3 137.5,290.6 138.5,288.9 139.5,287.3 140.5,285.6 141.5,283.9 142.5,282.3 143.5,280.6 144.5,279.0 145.5,277.3 146.5,275.6 147.5,274.0 148.5,272.3 149.5,270.6 150.5,268.9 151.5,267.1 152.5,265.4 153.5,263.7 154.5,262.0 155.5,260.3 156.5,258.5 157.5,256.8 158.5,255.0 159.5,253.2 160.5,251.2 161.5,249.4 162.5,247.8 163.5,246.4 164.5,245.2 165.5,244.0 166.5,242.9 167.5,241.9 168.5,240.9 169.5,239.9 170.5,239.0 171.5,238.1 172.5,237.1 173.5,236.2 174.5,235.3 175.5,234.4 176.5,233.4 177.5,232.5 178.5,231.6 179.5,230.7 180.5,229.8 181.5,229.0 182.5,228.1 183.5,227.2 184.5,226.4 185.5,225.5 186.5,224.7 187.5,223.8 188.5,222.9 189.5,222.0 190.5,221.1 191.5,220.2 192.5,219.3 193.5,218.4 194.5,217.5 195.5,216.6 196.5,215.7 197.5,214.8 198.5,213.8 199.5,212.9 200.5,212.0 201.5,211.0 202.5,210.1 203.5,209.1 204.5,208.1 205.5,207.1 206.5,206.0 207.5,204.9 208.5,203.8 209.5,202.7 210.5,201.5 211.5,200.2 212.5,198.8 213.5,197.5 214.5,196.1 215.5,194.7 216.5,193.2 217.5,191.8 218.5,190.4 219.5,189.0 220.5,187.6 221.5,186.2 222.5,184.8 223.5,183.5 224.5,182.3 225.5,181.1 226.5,179.9 227.5,178.7 228.5,177.6 229.5,176.4 230.5,175.2 231.5,174.1 232.5,173.0 233.5,171.9 234.5,170.8 235.5,169.8 236.5,168.7 237.5,167.7 238.5,166.8 239.5,165.8 240.5,165.0 241.5,164.1 242.5,163.3 243.5,162.5 244.5,161.7 245.5,161.0 246.5,160.3 247.5,159.6 248.5,158.9 249.5,158.2 250.5,157.6 251.5,157.0 252.5,156.3 253.5,155.7 254.5,155.1 255.5,154.5 256.5,154.0 257.5,153.4 258.5,152.8 259.5,152.2 260.5,151.7 261.5,151.1 262.5,150.5 263.5,149.9 264.5,149.4 265.5,148.8 266.5,148.3 267.5,147.8 268.5,147.2 269.5,146.7 270.5,146.2 271.5,145.8 272.5,145.3 273.5,144.9 274.5,144.5 275.5,144.1 276.5,143.8 277.5,143.4 278.5,143.1 279.5,142.7 280.5,142.4 281.5,142.1 282.5,141.8 283.5,141.5 284.5,141.2 285.5,140.9 286.5,140.6 287.5,140.4 288.5,140.1 289.5,139.9 290.5,139.7 291.5,139.5 292.5,139.3 293.5,139.2 294.5,139.0 295.5,138.8 296.5,138.7 297.5,138.5 298.5,138.4 299.5,138.2 300.5,138.1 301.5,138.0 302.5,137.9 303.5,137.7 304.5,137.6 305.5,137.5 306.5,137.4 307.5,137.4 308.5,137.3 309.5,137.2 310.5,137.1 311.5,137.0 312.5,137.0 313.5,136.9 314.5,136.8 315.5,136.7 316.5,136.7 317.5,136.6 318.5,136.5 319.5,136.5 320.5,136.4 321.5,136.4 322.5,136.4 323.5,136.3 324.5,136.3 325.5,136.3 326.5,136.3 327.5,136.3 328.5,136.3 329.5,136.4 330.5,136.4 331.5,136.4 332.5,136.5 333.5,136.5 334.5,136.6 335.5,136.7 336.5,136.7 337.5,136.8 338.5,136.9 339.5,137.0 340.5,137.0 341.5,137.1 342.5,137.2 343.5,137.2 344.5,137.3 345.5,137.4 346.5,137.5 347.5,137.6 348.5,137.7 349.5,137.8 350.5,137.9 351.5,138.0 352.5,138.1 353.5,138.2 354.5,138.4 355.5,138.5 356.5,138.6 357.5,138.7 358.5,138.9 359.5,139.0 360.5,139.1 361.5,139.3 362.5,139.4 363.5,139.6 364.5,139.7 365.5,139.9 366.5,140.1 367.5,140.3 368.5,140.4 369.5,140.6 370.5,140.8 371.5,140.9 372.5,141.1 373.5,141.3 374.5,141.4 375.5,141.6 376.5,141.7 377.5,141.9 378.5,142.0 379.5,142.1 380.5,142.2 381.5,142.4 382.5,142.5 383.5,142.6 384.5,142.7 385.5,142.8 386.5,143.0 387.5,143.1 388.5,143.2 389.5,143.3 390.5,143.4 391.5,143.5 392.5,143.6 393.5,143.7 394.5,143.8 395.5,143.9 396.5,144.0 397.5,144.1 398.5,144.3 399.5,144.4 400.5,144.5 401.5,144.6 402.5,144.7 403.5,144.8 404.5,144.9 405.5,145.0 406.5,145.1 407.5,145.2 408.5,145.4 409.5,145.5 410.5,145.6 411.5,145.7 412.5,145.8 413.5,146.0 414.5,146.1 415.5,146.2 416.5,146.3 417.5,146.4 418.5,146.6 419.5,146.7 420.5,146.8 421.5,146.9 422.5,147.1 423.5,147.2 424.5,147.3 425.5,147.4 426.5,147.6 427.5,147.7 428.5,147.8 429.5,148.0 430.5,148.1 431.5,148.2 432.5,148.3 433.5,148.5 434.5,148.6 435.5,148.7 436.5,148.9 437.5,149.0 438.5,149.1 439.5,149.2 440.5,149.4 441.5,149.5 442.5,149.6 443.5,149.7 444.5,149.9 445.5,150.0 446.5,150.1 447.5,150.3 448.5,150.4 449.5,150.5 450.5,150.6 451.5,150.8 452.5,150.9 453.5,151.0 454.5,151.1 455.5,151.3 456.5,151.4 457.5,151.5 458.5,151.7 459.5,151.8 460.5,151.9 461.5,152.0 462.5,152.2 463.5,152.3 464.5,152.4 465.5,152.6 466.5,152.7 467.5,152.8 468.5,153.0 469.5,153.1 470.5,153.2 471.5,153.3 472.5,153.5 473.5,153.6 474.5,153.7 475.5,153.9 476.5,154.0 476.5,195.0 475.5,194.8 474.5,194.7 473.5,194.5 472.5,194.3 471.5,194.2 470.5,194.0 469.5,193.8 468.5,193.7 467.5,193.5 466.5,193.3 465.5,193.2 464.5,193.0 463.5,192.8 462.5,192.7 461.5,192.5 460.5,192.3 459.5,192.2 458.5,192.0 457.5,191.8 456.5,191.6 455.5,191.5 454.5,191.3 453.5,191.1 452.5,190.9 451.5,190.8 450.5,190.6 449.5,190.4 448.5,190.2 447.5,190.1 446.5,189.9 445.5,189.7 444.5,189.5 443.5,189.4 442.5,189.2 441.5,189.0 440.5,188.8 439.5,188.6 438.5,188.5 437.5,188.3 436.5,188.1 435.5,187.9 434.5,187.7 433.5,187.5 432.5,187.3 431.5,187.2 430.5,187.0 429.5,186.8 428.5,186.6 427.5,186.4 426.5,186.2 425.5,186.0 424.5,185.8 423.5,185.6 422.5,185.4 421.5,185.3 420.5,185.1 419.5,184.9 418.5,184.7 417.5,184.5 416.5,184.3 415.5,184.1 414.5,183.9 413.5,183.7 412.5,183.5 411.5,183.3 410.5,183.1 409.5,182.9 408.5,182.8 407.5,182.6 406.5,182.4 405.5,182.2 404.5,182.0 403.5,181.8 402.5,181.6 401.5,181.4 400.5,181.2 399.5,181.0 398.5,180.9 397.5,180.7 396.5,180.5 395.5,180.3 394.5,180.1 393.5,179.9 392.5,179.7 391.5,179.5 390.5,179.3 389.5,179.1 388.5,178.9 387.5,178.7 386.5,178.6 385.5,178.4 384.5,178.2 383.5,178.0 382.5,177.8 381.5,177.6 380.5,177.4 379.5,177.1 378.5,176.9 377.5,176.7 376.5,176.5 375.5,176.3 374.5,176.1 373.5,175.9 372.5,175.7 371.5,175.5 370.5,175.2 369.5,175.0 368.5,174.8 367.5,174.6 366.5,174.4 365.5,174.1 364.5,173.9 363.5,173.7 362.5,173.5 361.5,173.2 360.5,173.0 359.5,172.8 358.5,172.5 357.5,172.3 356.5,172.0 355.5,171.8 354.5,171.5 353.5,171.3 352.5,171.0 351.5,170.8 350.5,170.5 349.5,170.3 348.5,170.0 347.5,169.8 346.5,169.6 345.5,169.3 344.5,169.1 343.5,168.8 342.5,168.6 341.5,168.4 340.5,168.1 339.5,167.9 338.5,167.6 337.5,167.4 336.5,167.1 335.5,166.9 334.5,166.6 333.5,166.4 332.5,166.2 331.5,166.0 330.5,165.8 329.5,165.6 328.5,165.4 327.5,165.2 326.5,165.0 325.5,164.9 324.5,164.8 323.5,164.6 322.5,164.5 321.5,164.3 320.5,164.2 319.5,164.1 318.5,164.0 317.5,163.8 316.5,163.7 315.5,163.6 314.5,163.5 313.5,163.4 312.5,163.4 311.5,163.3 310.5,163.2 309.5,163.2 308.5,163.2 307.5,163.1 306.5,163.1 305.5,163.1 304.5,163.0 303.5,163.0 302.5,163.0 301.5,162.9 300.5,162.9 299.5,162.9 298.5,162.9 297.5,162.8 296.5,162.8 295.5,162.8 294.5,162.8 293.5,162.8 292.5,162.8 291.5,162.8 290.5,162.8 289.5,162.9 288.5,162.9 287.5,163.0 286.5,163.1 285.5,163.2 284.5,163.3 283.5,163.4 282.5,163.5 281.5,163.6 280.5,163.7 279.5,163.8 278.5,164.0 277.5,164.1 276.5,164.2 275.5,164.4 274.5,164.5 273.5,164.7 272.5,164.9 271.5,165.1 270.5,165.3 269.5,165.5 268.5,165.7 267.5,166.0 266.5,166.2 265.5,166.5 264.5,166.8 263.5,167.1 262.5,167.4 261.5,167.7 260.5,168.0 259.5,168.4 258.5,168.7 257.5,169.1 256.5,169.5 255.5,169.9 254.5,170.3 253.5,170.7 252.5,171.2 251.5,171.7 250.5,172.2 249.5,172.7 248.5,173.2 247.5,173.8 246.5,174.4 245.5,175.0 244.5,175.6 243.5,176.2 242.5,176.9 241.5,177.5 240.5,178.3 239.5,179.0 238.5,179.9 237.5,180.8 236.5,181.7 235.5,182.6 234.5,183.6 233.5,184.6 232.5,185.7 231.5,186.7 230.5,187.8 229.5,188.9 228.5,190.0 227.5,191.1 226.5,192.2 225.5,193.2 224.5,194.3 223.5,195.4 222.5,196.6 221.5,197.8 220.5,199.0 219.5,200.3 218.5,201.5 217.5,202.8 216.5,204.1 215.5,205.3 214.5,206.5 213.5,207.8 212.5,208.9 211.5,210.1 210.5,211.2 209.5,212.3 208.5,213.2 207.5,214.2 206.5,215.1 205.5,216.0 204.5,216.8 203.5,217.7 202.5,218.5 201.5,219.3 200.5,220.1 199.5,220.9 198.5,221.6 197.5,222.4 196.5,223.1 195.5,223.9 194.5,224.7 193.5,225.4 192.5,226.2 191.5,227.0 190.5,227.8 189.5,228.5 188.5,229.3 187.5,230.0 186.5,230.8 185.5,231.5 184.5,232.3 183.5,233.0 182.5,233.7 181.5,234.5 180.5,235.3 179.5,236.0 178.5,236.8 177.5,237.6 176.5,238.5 175.5,239.3 174.5,240.2 173.5,241.0 172.5,241.9 171.5,242.7 170.5,243.6 169.5,244.5 168.5,245.5 167.5,246.4 166.5,247.4 165.5,248.5 164.5,249.6 163.5,250.7 162.5,251.9 161.5,253.3 160.5,254.8 159.5,256.4 158.5,258.0 157.5,259.5 156.5,261.1 155.5,262.7 154.5,264.3 153.5,265.9 152.5,267.5 151.5,269.1 150.5,270.8 149.5,272.4 148.5,274.1 147.5,275.7 146.5,277.3 145.5,279.0 144.5,280.6 143.5,282.2 142.5,283.8 141.5,285.4 140.5,287.1 139.5,288.7 138.5,290.4 137.5,292.0 136.5,293.7 135.5,295.4 134.5,297.1 133.5,298.8 132.5,300.4 131.5,302.1 130.5,303.7 129.5,305.2 128.5,306.7 127.5,308.2 126.5,309.6 125.5,310.9 124.5,312.2 123.5,313.4 122.5,314.6 121.5,315.7 120.5,316.8 119.5,317.9 118.5,318.9 117.5,319.9 116.5,320.9 115.5,321.9 114.5,322.8 113.5,323.8 112.5,324.7 111.5,325.7 110.5,326.7 109.5,327.6 108.5,328.6 107.5,329.4 106.5,330.1 105.5,330.6 104.5,331.1 103.5,331.5 102.5,331.9 101.5,332.2 100.5,332.5 99.5,332.8 98.5,333.0 97.5,333.3 96.5,333.5 95.5,333.7 94.5,333.9 93.5,334.1 92.5,334.2 91.5,334.4 90.5,334.6 89.5,334.7 88.5,334.8 87.5,336.0 86.5,336.0 85.5,336.0 84.5,336.0 83.5,336.0 82.5,336.0 81.5,336.0 80.5,336.0 79.5,336.0 78.5,336.0 77.5,336.0 76.5,336.0 75.5,336.0"/>
<polygon fill="#d93636" stroke="#e00808" stroke-width="2.0" points="75.5,336.0 76.5,336.0 77.5,336.0 78.5,336.0 79.5,336.0 80.5,336.0 81.5,336.0 82.5,336.0 83.5,336.0 84.5,336.0 85.5,336.0 86.5,336.0 87.5,336.0 88.5,334.8 89.5,334.7 90.5,334.5 91.5,334.4 92.5,334.2 93.5,334.0 94.5,333.8 95.5,333.6 96.5,333.4 97.5,333.2 98.5,332.9 99.5,332.7 100.5,332.4 101.5,332.1 102.5,331.8 103.5,331.4 104.5,331.0 105.5,330.5 106.5,330.0 107.5,329.2 108.5,328.4 109.5,327.4 110.5,326.3 111.5,325.2 112.5,324.2 113.5,323.1 114.5,322.1 115.5,320.9 116.5,319.8 117.5,318.6 118.5,317.4 119.5,316.1 120.5,314.9 121.5,313.6 122.5,312.3 123.5,311.0 124.5,309.6 125.5,308.3 126.5,306.9 127.5,305.5 128.5,304.0 129.5,302.6 130.5,301.1 131.5,299.5 132.5,298.0 133.5,296.4 134.5,294.9 135.5,293.3 136.5,291.7 137.5,290.1 138.5,288.5 139.5,286.9 140.5,285.3 141.5,283.6 142.5,282.0 143.5,280.4 144.5,278.7 145.5,277.1 146.5,275.4 147.5,273.7 148.5,272.0 149.5,270.3 150.5,268.6 151.5,266.9 152.5,265.2 153.5,263.4 154.5,261.7 155.5,260.0 156.5,258.2 157.5,256.5 158.5,254.7 159.5,252.9 160.5,251.0 161.5,249.1 162.5,247.5 163.5,246.1 164.5,244.9 165.5,243.7 166.5,242.6 167.5,241.5 168.5,240.5 169.5,239.5 170.5,238.6 171.5,237.6 172.5,236.7 173.5,235.8 174.5,234.8 175.5,233.8 176.5,232.9 177.5,231.9 178.5,231.0 179.5,230.1 180.5,229.1 181.5,228.2 182.5,227.3 183.5,226.4 184.5,225.5 185.5,224.6 186.5,223.7 187.5,222.8 188.5,221.9 189.5,220.9 190.5,220.0 191.5,219.0 192.5,218.1 193.5,217.1 194.5,216.1 195.5,215.2 196.5,214.2 197.5,213.2 198.5,212.3 199.5,211.3 200.5,210.3 201.5,209.3 202.5,208.2 203.5,207.2 204.5,206.1 205.5,205.0 206.5,203.9 207.5,202.8 208.5,201.6 209.5,200.4 210.5,199.2 211.5,197.8 212.5,196.5 213.5,195.1 214.5,193.6 215.5,192.2 216.5,190.7 217.5,189.3 218.5,187.8 219.5,186.4 220.5,184.9 221.5,183.5 222.5,182.1 223.5,180.7 224.5,179.4 225.5,178.2 226.5,176.9 227.5,175.7 228.5,174.4 229.5,173.2 230.5,171.9 231.5,170.7 232.5,169.5 233.5,168.3 234.5,167.2 235.5,166.0 236.5,164.9 237.5,163.8 238.5,162.7 239.5,161.7 240.5,160.6 241.5,159.7 242.5,158.7 243.5,157.8 244.5,156.9 245.5,156.0 246.5,155.1 247.5,154.3 248.5,153.5 249.5,152.7 250.5,151.9 251.5,151.1 252.5,150.3 253.5,149.6 254.5,148.8 255.5,148.1 256.5,147.3 257.5,146.6 258.5,145.8 259.5,145.1 260.5,144.3 261.5,143.6 262.5,142.8 263.5,142.0 264.5,141.3 265.5,140.5 266.5,139.8 267.5,139.0 268.5,138.3 269.5,137.6 270.5,137.0 271.5,136.3 272.5,135.7 273.5,135.2 274.5,134.6 275.5,134.1 276.5,133.7 277.5,133.2 278.5,132.8 279.5,132.4 280.5,132.0 281.5,131.7 282.5,131.3 283.5,131.0 284.5,130.6 285.5,130.3 286.5,130.0 287.5,129.7 288.5,129.4 289.5,129.1 290.5,128.8 291.5,128.5 292.5,128.2 293.5,127.9 294.5,127.7 295.5,127.4 296.5,127.2 297.5,126.9 298.5,126.7 299.5,126.4 300.5,126.2 301.5,125.9 302.5,125.7 303.5,125.5 304.5,125.3 305.5,125.1 306.5,124.9 307.5,124.7 308.5,124.5 309.5,124.3 310.5,124.1 311.5,123.9 312.5,123.7 313.5,123.5 314.5,123.3 315.5,123.1 316.5,122.9 317.5,122.7 318.5,122.5 319.5,122.3 320.5,122.2 321.5,122.0 322.5,121.9 323.5,121.8 324.5,121.7 325.5,121.6 326.5,121.6 327.5,121.5 328.5,121.5 329.5,121.5 330.5,121.4 331.5,121.4 332.5,121.4 333.5,121.3 334.5,121.3 335.5,121.3 336.5,121.3 337.5,121.2 338.5,121.2 339.5,121.2 340.5,121.2 341.5,121.2 342.5,121.2 343.5,121.2 344.5,121.2 345.5,121.2 346.5,121.2 347.5,121.2 348.5,121.2 349.5,121.2 350.5,121.3 351.5,121.3 352.5,121.3 353.5,121.3 354.5,121.3 355.5,121.3 356.5,121.3 357.5,121.4 358.5,121.4 359.5,121.4 360.5,121.4 361.5,121.4 362.5,121.5 363.5,121.5 364.5,121.5 365.5,121.6 366.5,121.6 367.5,121.7 368.5,121.7 369.5,121.8 370.5,121.8 371.5,121.8 372.5,121.9 373.5,121.9 374.5,121.9 375.5,122.0 376.5,122.0 377.5,122.0 378.5,122.1 379.5,122.1 380.5,122.1 381.5,122.1 382.5,122.1 383.5,122.2 384.5,122.2 385.5,122.2 386.5,122.2 387.5,122.2 388.5,122.3 389.5,122.3 390.5,122.3 391.5,122.3 392.5,122.3 393.5,122.4 394.5,122.4 395.5,122.4 396.5,122.4 397.5,122.4 398.5,122.4 399.5,122.4 400.5,122.5 401.5,122.5 402.5,122.5 403.5,122.5 404.5,122.5 405.5,122.5 406.5,122.6 407.5,122.6 408.5,122.6 409.5,122.6 410.5,122.6 411.5,122.6 412.5,122.6 413.5,122.7 414.5,122.7 415.5,122.7 416.5,122.7 417.5,122.7 418.5,122.7 419.5,122.7 420.5,122.7 421.5,122.8 422.5,122.8 423.5,122.8 424.5,122.8 425.5,122.8 426.5,122.8 427.5,122.8 428.5,122.8 429.5,122.8 430.5,122.9 431.5,122.9 432.5,122.9 433.5,122.9 434.5,122.9 435.5,122.9 436.5,122.9 437.5,122.9 438.5,122.9 439.5,123.0 440.5,123.0 441.5,123.0 442.5,123.0 443.5,123.0 444.5,123.0 445.5,123.0 446.5,123.0 447.5,123.1 448.5,123.1 449.5,123.1 450.5,123.1 451.5,123.1 452.5,123.1 453.5,123.1 454.5,123.1 455.5,123.1 456.5,123.2 457.5,123.2 458.5,123.2 459.5,123.2 460.5,123.2 461.5,123.2 462.5,123.2 463.5,123.2 464.5,123.3 465.5,123.3 466.5,123.3 467.5,123.3 468.5,123.3 469.5,123.3 470.5,123.3 471.5,123.3 472.5,123.4 473.5,123.4 474.5,123.4 475.5,123.4 476.5,123.4 476.5,154.0 475.5,153.9 474.5,153.7 473.5,153.6 472.5,153.5 471.5,153.3 470.5,153.2 469.5,153.1 468.5,153.0 467.5,152.8 466.5,152.7 465.5,152.6 464.5,152.4 463.5,152.3 462.5,152.2 461.5,152.0 460.5,151.9 459.5,151.8 458.5,151.7 457.5,151.5 456.5,151.4 455.5,151.3 454.5,151.1 453.5,151.0 452.5,150.9 451.5,150.8 450.5,150.6 449.5,150.5 448.5,150.4 447.5,150.3 446.5,150.1 445.5,150.0 444.5,149.9 443.5,149.7 442.5,149.6 441.5,149.5 440.5,149.4 439.5,149.2 438.5,149.1 437.5,149.0 436.5,148.9 435.5,148.7 434.5,148.6 433.5,148.5 432.5,148.3 431.5,148.2 430.5,148.1 429.5,148.0 428.5,147.8 427.5,147.7 426.5,147.6 425.5,147.4 424.5,147.3 423.5,147.2 422.5,147.1 421.5,146.9 420.5,146.8 419.5,146.7 418.5,146.6 417.5,146.4 416.5,146.3 415.5,146.2 414.5,146.1 413.5,146.0 412.5,145.8 411.5,145.7 410.5,145.6 409.5,145.5 408.5,145.4 407.5,145.2 406.5,145.1 405.5,145.0 404.5,144.9 403.5,144.8 402.5,144.7 401.5,144.6 400.5,144.5 399.5,144.4 398.5,144.3 397.5,144.1 396.5,144.0 395.5,143.9 394.5,143.8 393.5,143.7 392.5,143.6 391.5,143.5 390.5,143.4 389.5,143.3 388.5,143.2 387.5,143.1 386.5,143.0 385.5,142.8 384.5,142.7 383.5,142.6 382.5,142.5 381.5,142.4 380.5,142.2 379.5,142.1 378.5,142.0 377.5,141.9 376.5,141.7 375.5,141.6 374.5,141.4 373.5,141.3 372.5,141.1 371.5,140.9 370.5,140.8 369.5,140.6 368.5,140.4 367.5,140.3 366.5,140.1 365.5,139.9 364.5,139.7 363.5,139.6 362.5,139.4 361.5,139.3 360.5,139.1 359.5,139.0 358.5,138.9 357.5,138.7 356.5,138.6 355.5,138.5 354.5,138.4 353.5,138.2 352.5,138.1 351.5,138.0 350.5,137.9 349.5,137.8 348.5,137.7 347.5,137.6 346.5,137.5 345.5,137.4 344.5,137.3 343.5,137.2 342.5,137.2 341.5,137.1 340.5,137.0 339.5,137.0 338.5,136.9 337.5,136.8 336.5,136.7 335.5,136.7 334.5,136.6 333.5,136.5 332.5,136.5 331.5,136.4 330.5,136.4 329.5,136.4 328.5,136.3 327.5,136.3 326.5,136.3 325.5,136.3 324.5,136.3 323.5,136.3 322.5,136.4 321.5,136.4 320.5,136.4 319.5,136.5 318.5,136.5 317.5,136.6 316.5,136.7 315.5,136.7 314.5,136.8 313.5,136.9 312.5,137.0 311.5,137.0 310.5,137.1 309.5,137.2 308.5,137.3 307.5,137.4 306.5,137.4 305.5,137.5 304.5,137.6 303.5,137.7 302.5,137.9 301.5,138.0 300.5,138.1 299.5,138.2 298.5,138.4 297.5,138.5 296.5,138.7 295.5,138.8 294.5,139.0 293.5,139.2 292.5,139.3 291.5,139.5 290.5,139.7 289.5,139.9 288.5,140.1 287.5,140.4 286.5,140.6 285.5,140.9 284.5,141.2 283.5,141.5 282.5,141.8 281.5,142.1 280.5,142.4 279.5,142.7 278.5,143.1 277.5,143.4 276.5,143.8 275.5,144.1 274.5,144.5 273.5,144.9 272.5,145.3 271.5,145.8 270.5,146.2 269.5,146.7 268.5,147.2 267.5,147.8 266.5,148.3 265.5,148.8 264.5,149.4 263.5,149.9 262.5,150.5 261.5,151.1 260.5,151.7 259.5,152.2 258.5,152.8 257.5,153.4 256.5,154.0 255.5,154.5 254.5,155.1 253.5,155.7 252.5,156.3 251.5,157.0 250.5,157.6 249.5,158.2 248.5,158.9 247.5,159.6 246.5,160.3 245.5,161.0 244.5,161.7 243.5,162.5 242.5,163.3 241.5,164.1 240.5,165.0 239.5,165.8 238.5,166.8 237.5,167.7 236.5,168.7 235.5,169.8 234.5,170.8 233.5,171.9 232.5,173.0 231.5,174.1 230.5,175.2 229.5,176.4 228.5,177.6 227.5,178.7 226.5,179.9 225.5,181.1 224.5,182.3 223.5,183.5 222.5,184.8 221.5,186.2 220.5,187.6 219.5,189.0 218.5,190.4 217.5,191.8 216.5,193.2 215.5,194.7 214.5,196.1 213.5,197.5 212.5,198.8 211.5,200.2 210.5,201.5 209.5,202.7 208.5,203.8 207.5,204.9 206.5,206.0 205.5,207.1 204.5,208.1 203.5,209.1 202.5,210.1 201.5,211.0 200.5,212.0 199.5,212.9 198.5,213.8 197.5,214.8 196.5,215.7 195.5,216.6 194.5,217.5 193.5,218.4 192.5,219.3 191.5,220.2 190.5,221.1 189.5,222.0 188.5,222.9 187.5,223.8 186.5,224.7 185.5,225.5 184.5,226.4 183.5,227.2 182.5,228.1 181.5,229.0 180.5,229.8 179.5,230.7 178.5,231.6 177.5,232.5 176.5,233.4 175.5,234.4 174.5,235.3 173.5,236.2 172.5,237.1 171.5,238.1 170.5,239.0 169.5,239.9 168.5,240.9 167.5,241.9 166.5,242.9 165.5,244.0 164.5,245.2 163.5,246.4 162.5,247.8 161.5,249.4 160.5,251.2 159.5,253.2 158.5,255.0 157.5,256.8 156.5,258.5 155.5,260.3 154.5,262.0 153.5,263.7 152.5,265.4 151.5,267.1 150.5,268.9 149.5,270.6 148.5,272.3 147.5,274.0 146.5,275.6 145.5,277.3 144.5,279.0 143.5,280.6 142.5,282.3 141.5,283.9 140.5,285.6 139.5,287.3 138.5,288.9 137.5,290.6 136.5,292.3 135.5,294.0 134.5,295.6 133.5,297.3 132.5,298.9 131.5,300.6 130.5,302.1 129.5,303.7 128.5,305.2 127.5,306.7 126.5,308.1 125.5,309.5 124.5,310.8 123.5,312.1 122.5,313.4 121.5,314.6 120.5,315.8 119.5,317.0 118.5,318.1 117.5,319.2 116.5,320.3 115.5,321.4 114.5,322.4 113.5,323.4 112.5,324.4 111.5,325.4 110.5,326.4 109.5,327.4 108.5,328.4 107.5,329.3 106.5,330.0 105.5,330.5 104.5,331.0 103.5,331.4 102.5,331.8 101.5,332.1 100.5,332.4 99.5,332.7 98.5,332.9 97.5,333.2 96.5,333.4 95.5,333.6 94.5,333.8 93.5,334.0 92.5,334.2 91.5,334.4 90.5,334.5 89.5,334.7 88.5,334.8 87.5,336.0 86.5,336.0 85.5,336.0 84.5,336.0 83.5,336.0 82.5,336.0 81.5,336.0 80.5,336.0 79.5,336.0 78.5,336.0 77.5,336.0 76.5,336.0 75.5,336.0"/>
<polygon fill="#cc33ff" stroke="#c02ff2" stroke-width="2.0" points="75.5,336.0 76.5,336.0 77.5,336.0 78.5,336.0 79.5,336.0 80.5,336.0 81.5,336.0 82.5,336.0 83.5,336.0 84.5,336.0 85.5,336.0 86.5,336.0 87.5,334.8 88.5,334.6 89.5,334.4 90.5,334.2 91.5,334.0 92.5,333.7 93.5,333.5 94.5,333.2 95.5,333.0 96.5,332.7 97.5,332.5 98.5,332.2 99.5,331.9 100.5,331.5 101.5,331.2 102.5,330.8 103.5,330.4 104.5,329.9 105.5,329.4 106.5,328.7 107.5,327.8 108.5,326.7 109.5,325.5 110.5,324.2 111.5,322.9 112.5,321.6 113.5,320.3 114.5,318.9 115.5,317.4 116.5,315.9 117.5,314.3 118.5,312.7 119.5,311.1 120.5,309.5 121.5,307.8 122.5,306.1 123.5,304.5 124.5,302.8 125.5,301.2 126.5,299.5 127.5,297.9 128.5,296.2 129.5,294.5 130.5,292.8 131.5,291.1 132.5,289.4 133.5,287.7 134.5,285.9 135.5,284.2 136.5,282.4 137.5,280.6 138.5,278.9 139.5,277.1 140.5,275.3 141.5,273.4 142.5,271.6 143.5,269.7 144.5,267.8 145.5,265.9 146.5,264.0 147.5,262.0 148.5,260.0 149.5,258.1 150.5,256.1 151.5,254.1 152.5,252.1 153.5,250.2 154.5,248.2 155.5,246.3 156.5,244.4 157.5,242.5 158.5,240.7 159.5,238.8 160.5,237.0 161.5,235.2 162.5,233.6 163.5,232.1 164.5,230.6 165.5,229.3 166.5,228.0 167.5,226.8 168.5,225.6 169.5,224.4 170.5,223.3 171.5,222.1 172.5,220.9 173.5,219.8 174.5,218.6 175.5,217.3 176.5,216.0 177.5,214.8 178.5,213.5 179.5,212.2 180.5,210.9 181.5,209.7 182.5,208.4 183.5,207.2 184.5,206.0 185.5,204.8 186.5,203.6 187.5,202.5 188.5,201.4 189.5,200.3 190.5,199.2 191.5,198.1 192.5,197.0 193.5,195.9 194.5,194.8 195.5,193.7 196.5,192.6 197.5,191.5 198.5,190.4 199.5,189.2 200.5,188.0 201.5,186.8 202.5,185.6 203.5,184.4 204.5,183.1 205.5,181.8 206.5,180.5 207.5,179.1 208.5,177.7 209.5,176.2 210.5,174.7 211.5,173.0 212.5,171.4 213.5,169.7 214.5,167.9 215.5,166.1 216.5,164.4 217.5,162.6 218.5,160.7 219.5,158.9 220.5,157.2 221.5,155.4 222.5,153.7 223.5,152.0 224.5,150.3 225.5,148.7 226.5,147.1 227.5,145.5 228.5,143.9 229.5,142.3 230.5,140.7 231.5,139.1 232.5,137.5 233.5,135.9 234.5,134.4 235.5,132.9 236.5,131.4 237.5,130.0 238.5,128.6 239.5,127.3 240.5,126.0 241.5,124.7 242.5,123.6 243.5,122.4 244.5,121.3 245.5,120.2 246.5,119.2 247.5,118.1 248.5,117.1 249.5,116.2 250.5,115.2 251.5,114.2 252.5,113.3 253.5,112.4 254.5,111.5 255.5,110.6 256.5,109.7 257.5,108.8 258.5,108.0 259.5,107.1 260.5,106.2 261.5,105.3 262.5,104.4 263.5,103.6 264.5,102.7 265.5,101.8 266.5,101.0 267.5,100.1 268.5,99.3 269.5,98.6 270.5,97.8 271.5,97.1 272.5,96.4 273.5,95.7 274.5,95.1 275.5,94.5 276.5,94.0 277.5,93.5 278.5,93.0 279.5,92.5 280.5,92.0 281.5,91.6 282.5,91.1 283.5,90.7 284.5,90.3 285.5,89.9 286.5,89.5 287.5,89.1 288.5,88.8 289.5,88.4 290.5,88.1 291.5,87.7 292.5,87.4 293.5,87.1 294.5,86.8 295.5,86.5 296.5,86.2 297.5,85.9 298.5,85.6 299.5,85.4 300.5,85.1 301.5,84.9 302.5,84.6 303.5,84.4 304.5,84.2 305.5,83.9 306.5,83.7 307.5,83.5 308.5,83.3 309.5,83.2 310.5,83.0 311.5,82.8 312.5,82.6 313.5,82.5 314.5,82.3 315.5,82.1 316.5,81.9 317.5,81.8 318.5,81.6 319.5,81.5 320.5,81.4 321.5,81.2 322.5,81.2 323.5,81.1 324.5,81.0 325.5,81.0 326.5,81.0 327.5,81.0 328.5,81.0 329.5,81.0 330.5,81.0 331.5,81.0 332.5,81.0 333.5,81.0 334.5,81.0 335.5,81.0 336.5,81.0 337.5,81.0 338.5,81.0 339.5,81.0 340.5,81.0 341.5,81.0 342.5,81.0 343.5,81.0 344.5,81.0 345.5,81.0 346.5,81.0 347.5,81.0 348.5,81.1 349.5,81.1 350.5,81.1 351.5,81.1 352.5,81.2 353.5,81.2 354.5,81.2 355.5,81.3 356.5,81.3 357.5,81.4 358.5,81.4 359.5,81.4 360.5,81.5 361.5,81.5 362.5,81.6 363.5,81.6 364.5,81.6 365.5,81.7 366.5,81.7 367.5,81.8 368.5,81.8 369.5,81.8 370.5,81.9 371.5,81.9 372.5,81.9 373.5,81.9 374.5,82.0 375.5,82.0 376.5,82.0 377.5,82.0 378.5,82.0 379.5,82.0 380.5,82.1 381.5,82.1 382.5,82.1 383.5,82.1 384.5,82.1 385.5,82.1 386.5,82.1 387.5,82.1 388.5,82.1 389.5,82.2 390.5,82.2 391.5,82.2 392.5,82.2 393.5,82.2 394.5,82.2 395.5,82.2 396.5,82.2 397.5,82.2 398.5,82.2 399.5,82.2 400.5,82.2 401.5,82.2 402.5,82.3 403.5,82.3 404.5,82.3 405.5,82.3 406.5,82.3 407.5,82.3 408.5,82.3 409.5,82.3 410.5,82.3 411.5,82.3 412.5,82.3 413.5,82.3 414.5,82.3 415.5,82.3 416.5,82.3 417.5,82.3 418.5,82.4 419.5,82.4 420.5,82.4 421.5,82.4 422.5,82.4 423.5,82.4 424.5,82.4 425.5,82.4 426.5,82.4 427.5,82.4 428.5,82.4 429.5,82.4 430.5,82.4 431.5,82.4 432.5,82.4 433.5,82.4 434.5,82.4 435.5,82.5 436.5,82.5 437.5,82.5 438.5,82.5 439.5,82.5 440.5,82.5 441.5,82.5 442.5,82.5 443.5,82.5 444.5,82.5 445.5,82.5 446.5,82.5 447.5,82.5 448.5,82.5 449.5,82.5 450.5,82.5 451.5,82.5 452.5,82.5 453.5,82.5 454.5,82.5 455.5,82.5 456.5,82.5 457.5,82.6 458.5,82.6 459.5,82.6 460.5,82.6 461.5,82.6 462.5,82.6 463.5,82.6 464.5,82.6 465.5,82.6 466.5,82.6 467.5,82.6 468.5,82.6 469.5,82.6 470.5,82.6 471.5,82.6 472.5,82.6 473.5,82.6 474.5,82.6 475.5,82.6 476.5,82.6 476.5,123.4 475.5,123.4 474.5,123.4 473.5,123.4 472.5,123.4 471.5,123.3 470.5,123.3 469.5,123.3 468.5,123.3 467.5,123.3 466.5,123.3 465.5,123.3 464.5,123.3 463.5,123.2 462.5,123.2 461.5,123.2 460.5,123.2 459.5,123.2 458.5,123.2 457.5,123.2 456.5,123.2 455.5,123.1 454.5,123.1 453.5,123.1 452.5,123.1 451.5,123.1 450.5,123.1 449.5,123.1 448.5,123.1 447.5,123.1 446.5,123.0 445.5,123.0 444.5,123.0 443.5,123.0 442.5,123.0 441.5,123.0 440.5,123.0 439.5,123.0 438.5,122.9 437.5,122.9 436.5,122.9 435.5,122.9 434.5,122.9 433.5,122.9 432.5,122.9 431.5,122.9 430.5,122.9 429.5,122.8 428.5,122.8 427.5,122.8 426.5,122.8 425.5,122.8 424.5,122.8 423.5,122.8 422.5,122.8 421.5,122.8 420.5,122.7 419.5,122.7 418.5,122.7 417.5,122.7 416.5,122.7 415.5,122.7 414.5,122.7 413.5,122.7 412.5,122.6 411.5,122.6 410.5,122.6 409.5,122.6 408.5,122.6 407.5,122.6 406.5,122.6 405.5,122.5 404.5,122.5 403.5,122.5 402.5,122.5 401.5,122.5 400.5,122.5 399.5,122.4 398.5,122.4 397.5,122.4 396.5,122.4 395.5,122.4 394.5,122.4 393.5,122.4 392.5,122.3 391.5,122.3 390.5,122.3 389.5,122.3 388.5,122.3 387.5,122.2 386.5,122.2 385.5,122.2 384.5,122.2 383.5,122.2 382.5,122.1 381.5,122.1 380.5,122.1 379.5,122.1 378.5,122.1 377.5,122.0 376.5,122.0 375.5,122.0 374.5,121.9 373.5,121.9 372.5,121.9 371.5,121.8 370.5,121.8 369.5,121.8 368.5,121.7 367.5,121.7 366.5,121.6 365.5,121.6 364.5,121.5 363.5,121.5 362.5,121.5 361.5,121.4 360.5,121.4 359.5,121.4 358.5,121.4 357.5,121.4 356.5,121.3 355.5,121.3 354.5,121.3 353.5,121.3 352.5,121.3 351.5,121.3 350.5,121.3 349.5,121.2 348.5,121.2 347.5,121.2 346.5,121.2 345.5,121.2 344.5,121.2 343.5,121.2 342.5,121.2 341.5,121.2 340.5,121.2 339.5,121.2 338.5,121.2 337.5,121.2 336.5,121.3 335.5,121.3 334.5,121.3 333.5,121.3 332.5,121.4 331.5,121.4 330.5,121.4 329.5,121.5 328.5,121.5 327.5,121.5 326.5,121.6 325.5,121.6 324.5,121.7 323.5,121.8 322.5,121.9 321.5,122.0 320.5,122.2 319.5,122.3 318.5,122.5 317.5,122.7 316.5,122.9 315.5,123.1 314.5,123.3 313.5,123.5 312.5,123.7 311.5,123.9 310.5,124.1 309.5,124.3 308.5,124.5 307.5,124.7 306.5,124.9 305.5,125.1 304.5,125.3 303.5,125.5 302.5,125.7 301.5,125.9 300.5,126.2 299.5,126.4 298.5,126.7 297.5,126.9 296.5,127.2 295.5,127.4 294.5,127.7 293.5,127.9 292.5,128.2 291.5,128.5 290.5,128.8 289.5,129.1 288.5,129.4 287.5,129.7 286.5,130.0 285.5,130.3 284.5,130.6 283.5,131.0 282.5,131.3 281.5,131.7 280.5,132.0 279.5,132.4 278.5,132.8 277.5,133.2 276.5,133.7 275.5,134.1 274.5,134.6 273.5,135.2 272.5,135.7 271.5,136.3 270.5,137.0 269.5,137.6 268.5,138.3 267.5,139.0 266.5,139.8 265.5,140.5 264.5,141.3 263.5,142.0 262.5,142.8 261.5,143.6 260.5,144.3 259.5,145.1 258.5,145.8 257.5,146.6 256.5,147.3 255.5,148.1 254.5,148.8 253.5,149.6 252.5,150.3 251.5,151.1 250.5,151.9 249.5,152.7 248.5,153.5 247.5,154.3 246.5,155.1 245.5,156.0 244.5,156.9 243.5,157.8 242.5,158.7 241.5,159.7 240.5,160.6 239.5,161.7 238.5,162.7 237.5,163.8 236.5,164.9 235.5,166.0 234.5,167.2 233.5,168.3 232.5,169.5 231.5,170.7 230.5,171.9 229.5,173.2 228.5,174.4 227.5,175.7 226.5,176.9 225.5,178.2 224.5,179.4 223.5,180.7 222.5,182.1 221.5,183.5 220.5,184.9 219.5,186.4 218.5,187.8 217.5,189.3 216.5,190.7 215.5,192.2 214.5,193.6 213.5,195.1 212.5,196.5 211.5,197.8 210.5,199.2 209.5,200.4 208.5,201.6 207.5,202.8 206.5,203.9 205.5,205.0 204.5,206.1 203.5,207.2 202.5,208.2 201.5,209.3 200.5,210.3 199.5,211.3 198.5,212.3 197.5,213.2 196.5,214.2 195.5,215.2 194.5,216.1 193.5,217.1 192.5,218.1 191.5,219.0 190.5,220.0 189.5,220.9 188.5,221.9 187.5,222.8 186.5,223.7 185.5,224.6 184.5,225.5 183.5,226.4 182.5,227.3 181.5,228.2 180.5,229.1 179.5,230.1 178.5,231.0 177.5,231.9 176.5,232.9 175.5,233.8 174.5,234.8 173.5,235.8 172.5,236.7 171.5,237.6 170.5,238.6 169.5,239.5 168.5,240.5 167.5,241.5 166.5,242.6 165.5,243.7 164.5,244.9 163.5,246.1 162.5,247.5 161.5,249.1 160.5,251.0 159.5,252.9 158.5,254.7 157.5,256.5 156.5,258.2 155.5,260.0 154.5,261.7 153.5,263.4 152.5,265.2 151.5,266.9 150.5,268.6 149.5,270.3 148.5,272.0 147.5,273.7 146.5,275.4 145.5,277.1 144.5,278.7 143.5,280.4 142.5,282.0 141.5,283.6 140.5,285.3 139.5,286.9 138.5,288.5 137.5,290.1 136.5,291.7 135.5,293.3 134.5,294.9 133.5,296.4 132.5,298.0 131.5,299.5 130.5,301.1 129.5,302.6 128.5,304.0 127.5,305.5 126.5,306.9 125.5,308.3 124.5,309.6 123.5,311.0 122.5,312.3 121.5,313.6 120.5,314.9 119.5,316.1 118.5,317.4 117.5,318.6 116.5,319.8 115.5,320.9 114.5,322.1 113.5,323.1 112.5,324.2 111.5,325.2 110.5,326.3 109.5,327.4 108.5,328.4 107.5,329.2 106.5,330.0 105.5,330.5 104.5,331.0 103.5,331.4 102.5,331.8 101.5,332.1 100.5,332.4 99.5,332.7 98.5,332.9 97.5,333.2 96.5,333.4 95.5,333.6 94.5,333.8 93.5,334.0 92.5,334.2 91.5,334.4 90.5,334.5 89.5,334.7 88.5,334.8 87.5,336.0 86.5,336.0 85.5,336.0 84.5,336.0 83.5,336.0 82.5,336.0 81.5,336.0 80.5,336.0 79.5,336.0 78.5,336.0 77.5,336.0 76.5,336.0 75.5,336.0"/>
<polygon fill="#ed9b4b" stroke="#e66f24" stroke-width="2.0" points="75.5,336.0 76.5,336.0 77.5,336.0 78.5,336.0 79.5,336.0 80.5,336.0 81.5,336.0 82.5,336.0 83.5,336.0 84.5,334.9 85.5,334.8 86.5,334.7 87.5,334.5 88.5,334.3 89.5,334.1 90.5,333.9 91.5,333.7 92.5,333.4 93.5,333.1 94.5,332.9 95.5,332.6 96.5,332.3 97.5,332.0 98.5,331.7 99.5,331.4 100.5,331.1 101.5,330.7 102.5,330.3 103.5,329.8 104.5,329.3 105.5,328.8 106.5,328.0 107.5,327.1 108.5,325.9 109.5,324.6 110.5,323.2 111.5,321.8 112.5,320.4 113.5,318.9 114.5,317.4 115.5,315.8 116.5,314.1 117.5,312.4 118.5,310.6 119.5,308.8 120.5,307.0 121.5,305.1 122.5,303.3 123.5,301.4 124.5,299.6 125.5,297.7 126.5,295.8 127.5,293.9 128.5,292.0 129.5,290.1 130.5,288.1 131.5,286.1 132.5,284.1 133.5,282.1 134.5,280.1 135.5,278.0 136.5,276.0 137.5,274.0 138.5,272.0 139.5,269.9 140.5,267.9 141.5,265.9 142.5,263.9 143.5,262.0 144.5,260.0 145.5,258.0 146.5,256.0 147.5,254.0 148.5,252.1 149.5,250.1 150.5,248.1 151.5,246.1 152.5,244.1 153.5,242.1 154.5,240.0 155.5,238.0 156.5,236.0 157.5,233.9 158.5,231.8 159.5,229.6 160.5,227.4 161.5,225.2 162.5,223.2 163.5,221.3 164.5,219.5 165.5,217.8 166.5,216.1 167.5,214.4 168.5,212.8 169.5,211.3 170.5,209.7 171.5,208.3 172.5,206.8 173.5,205.4 174.5,204.0 175.5,202.7 176.5,201.4 177.5,200.1 178.5,198.9 179.5,197.7 180.5,196.5 181.5,195.4 182.5,194.3 183.5,193.1 184.5,191.9 185.5,190.8 186.5,189.7 187.5,188.6 188.5,187.4 189.5,186.3 190.5,185.1 191.5,183.9 192.5,182.6 193.5,181.2 194.5,179.8 195.5,178.3 196.5,176.8 197.5,175.3 198.5,173.7 199.5,172.1 200.5,170.5 201.5,168.8 202.5,167.2 203.5,165.5 204.5,163.9 205.5,162.2 206.5,160.5 207.5,158.8 208.5,157.2 209.5,155.5 210.5,153.8 211.5,152.1 212.5,150.3 213.5,148.5 214.5,146.8 215.5,145.0 216.5,143.2 217.5,141.4 218.5,139.6 219.5,137.8 220.5,136.0 221.5,134.3 222.5,132.5 223.5,130.8 224.5,129.1 225.5,127.5 226.5,125.8 227.5,124.2 228.5,122.5 229.5,120.8 230.5,119.2 231.5,117.5 232.5,115.9 233.5,114.3 234.5,112.7 235.5,111.1 236.5,109.6 237.5,108.0 238.5,106.5 239.5,105.1 240.5,103.7 241.5,102.3 242.5,100.9 243.5,99.6 244.5,98.3 245.5,97.0 246.5,95.8 247.5,94.5 248.5,93.3 249.5,92.1 250.5,90.9 251.5,89.8 252.5,88.6 253.5,87.5 254.5,86.4 255.5,85.3 256.5,84.3 257.5,83.2 258.5,82.2 259.5,81.2 260.5,80.1 261.5,79.1 262.5,78.1 263.5,77.1 264.5,76.0 265.5,75.1 266.5,74.1 267.5,73.1 268.5,72.2 269.5,71.3 270.5,70.5 271.5,69.7 272.5,68.9 273.5,68.2 274.5,67.5 275.5,66.9 276.5,66.4 277.5,65.8 278.5,65.3 279.5,64.8 280.5,64.4 281.5,63.9 282.5,63.5 283.5,63.0 284.5,62.6 285.5,62.2 286.5,61.9 287.5,61.5 288.5,61.1 289.5,60.8 290.5,60.5 291.5,60.1 292.5,59.8 293.5,59.5 294.5,59.2 295.5,58.9 296.5,58.6 297.5,58.3 298.5,58.0 299.5,57.7 300.5,57.5 301.5,57.2 302.5,56.9 303.5,56.7 304.5,56.5 305.5,56.2 306.5,56.0 307.5,55.8 308.5,55.6 309.5,55.5 310.5,55.3 311.5,55.1 312.5,55.0 313.5,54.8 314.5,54.7 315.5,54.5 316.5,54.4 317.5,54.2 318.5,54.1 319.5,54.0 320.5,53.8 321.5,53.7 322.5,53.6 323.5,53.6 324.5,53.5 325.5,53.4 326.5,53.4 327.5,53.3 328.5,53.3 329.5,53.3 330.5,53.2 331.5,53.2 332.5,53.2 333.5,53.1 334.5,53.1 335.5,53.1 336.5,53.1 337.5,53.0 338.5,53.0 339.5,53.0 340.5,53.0 341.5,53.0 342.5,53.0 343.5,53.0 344.5,53.0 345.5,53.0 346.5,53.0 347.5,53.0 348.5,53.1 349.5,53.1 350.5,53.1 351.5,53.1 352.5,53.2 353.5,53.2 354.5,53.2 355.5,53.3 356.5,53.3 357.5,53.3 358.5,53.4 359.5,53.4 360.5,53.5 361.5,53.5 362.5,53.5 363.5,53.6 364.5,53.6 365.5,53.7 366.5,53.7 367.5,53.7 368.5,53.8 369.5,53.8 370.5,53.9 371.5,53.9 372.5,53.9 373.5,53.9 374.5,54.0 375.5,54.0 376.5,54.0 377.5,54.0 378.5,54.0 379.5,54.1 380.5,54.1 381.5,54.1 382.5,54.1 383.5,54.1 384.5,54.1 385.5,54.1 386.5,54.2 387.5,54.2 388.5,54.2 389.5,54.2 390.5,54.2 391.5,54.2 392.5,54.2 393.5,54.3 394.5,54.3 395.5,54.3 396.5,54.3 397.5,54.3 398.5,54.3 399.5,54.3 400.5,54.3 401.5,54.3 402.5,54.4 403.5,54.4 404.5,54.4 405.5,54.4 406.5,54.4 407.5,54.4 408.5,54.4 409.5,54.4 410.5,54.4 411.5,54.4 412.5,54.4 413.5,54.4 414.5,54.4 415.5,54.4 416.5,54.4 417.5,54.4 418.5,54.4 419.5,54.4 420.5,54.5 421.5,54.5 422.5,54.5 423.5,54.5 424.5,54.5 425.5,54.5 426.5,54.5 427.5,54.5 428.5,54.5 429.5,54.5 430.5,54.5 431.5,54.5 432.5,54.5 433.5,54.5 434.5,54.5 435.5,54.5 436.5,54.5 437.5,54.5 438.5,54.5 439.5,54.5 440.5,54.5 441.5,54.5 442.5,54.5 443.5,54.5 444.5,54.5 445.5,54.6 446.5,54.6 447.5,54.6 448.5,54.6 449.5,54.6 450.5,54.6 451.5,54.6 452.5,54.6 453.5,54.6 454.5,54.6 455.5,54.6 456.5,54.6 457.5,54.6 458.5,54.6 459.5,54.6 460.5,54.6 461.5,54.6 462.5,54.6 463.5,54.6 464.5,54.6 465.5,54.6 466.5,54.6 467.5,54.6 468.5,54.6 469.5,54.6 470.5,54.6 471.5,54.6 472.5,54.6 473.5,54.6 474.5,54.6 475.5,54.6 476.5,54.6 476.5,82.6 475.5,82.6 474.5,82.6 473.5,82.6 472.5,82.6 471.5,82.6 470.5,82.6 469.5,82.6 468.5,82.6 467.5,82.6 466.5,82.6 465.5,82.6 464.5,82.6 463.5,82.6 462.5,82.6 461.5,82.6 460.5,82.6 459.5,82.6 458.5,82.6 457.5,82.6 456.5,82.5 455.5,82.5 454.5,82.5 453.5,82.5 452.5,82.5 451.5,82.5 450.5,82.5 449.5,82.5 448.5,82.5 447.5,82.5 446.5,82.5 445.5,82.5 444.5,82.5 443.5,82.5 442.5,82.5 441.5,82.5 440.5,82.5 439.5,82.5 438.5,82.5 437.5,82.5 436.5,82.5 435.5,82.5 434.5,82.4 433.5,82.4 432.5,82.4 431.5,82.4 430.5,82.4 429.5,82.4 428.5,82.4 427.5,82.4 426.5,82.4 425.5,82.4 424.5,82.4 423.5,82.4 422.5,82.4 421.5,82.4 420.5,82.4 419.5,82.4 418.5,82.4 417.5,82.3 416.5,82.3 415.5,82.3 414.5,82.3 413.5,82.3 412.5,82.3 411.5,82.3 410.5,82.3 409.5,82.3 408.5,82.3 407.5,82.3 406.5,82.3 405.5,82.3 404.5,82.3 403.5,82.3 402.5,82.3 401.5,82.2 400.5,82.2 399.5,82.2 398.5,82.2 397.5,82.2 396.5,82.2 395.5,82.2 394.5,82.2 393.5,82.2 392.5,82.2 391.5,82.2 390.5,82.2 389.5,82.2 388.5,82.1 387.5,82.1 386.5,82.1 385.5,82.1 384.5,82.1 383.5,82.1 382.5,82.1 381.5,82.1 380.5,82.1 379.5,82.0 378.5,82.0 377.5,82.0 376.5,82.0 375.5,82.0 374.5,82.0 373.5,81.9 372.5,81.9 371.5,81.9 370.5,81.9 369.5,81.8 368.5,81.8 367.5,81.8 366.5,81.7 365.5,81.7 364.5,81.6 363.5,81.6 362.5,81.6 361.5,81.5 360.5,81.5 359.5,81.4 358.5,81.4 357.5,81.4 356.5,81.3 355.5,81.3 354.5,81.2 353.5,81.2 352.5,81.2 351.5,81.1 350.5,81.1 349.5,81.1 348.5,81.1 347.5,81.0 346.5,81.0 345.5,81.0 344.5,81.0 343.5,81.0 342.5,81.0 341.5,81.0 340.5,81.0 339.5,81.0 338.5,81.0 337.5,81.0 336.5,81.0 335.5,81.0 334.5,81.0 333.5,81.0 332.5,81.0 331.5,81.0 330.5,81.0 329.5,81.0 328.5,81.0 327.5,81.0 326.5,81.0 325.5,81.0 324.5,81.0 323.5,81.1 322.5,81.2 321.5,81.2 320.5,81.4 319.5,81.5 318.5,81.6 317.5,81.8 316.5,81.9 315.5,82.1 314.5,82.3 313.5,82.5 312.5,82.6 311.5,82.8 310.5,83.0 309.5,83.2 308.5,83.3 307.5,83.5 306.5,83.7 305.5,83.9 304.5,84.2 303.5,84.4 302.5,84.6 301.5,84.9 300.5,85.1 299.5,85.4 298.5,85.6 297.5,85.9 296.5,86.2 295.5,86.5 294.5,86.8 293.5,87.1 292.5,87.4 291.5,87.7 290.5,88.1 289.5,88.4 288.5,88.8 287.5,89.1 286.5,89.5 285.5,89.9 284.5,90.3 283.5,90.7 282.5,91.1 281.5,91.6 280.5,92.0 279.5,92.5 278.5,93.0 277.5,93.5 276.5,94.0 275.5,94.5 274.5,95.1 273.5,95.7 272.5,96.4 271.5,97.1 270.5,97.8 269.5,98.6 268.5,99.3 267.5,100.1 266.5,101.0 265.5,101.8 264.5,102.7 263.5,103.6 262.5,104.4 261.5,105.3 260.5,106.2 259.5,107.1 258.5,108.0 257.5,108.8 256.5,109.7 255.5,110.6 254.5,111.5 253.5,112.4 252.5,113.3 251.5,114.2 250.5,115.2 249.5,116.2 248.5,117.1 247.5,118.1 246.5,119.2 245.5,120.2 244.5,121.3 243.5,122.4 242.5,123.6 241.5,124.7 240.5,126.0 239.5,127.3 238.5,128.6 237.5,130.0 236.5,131.4 235.5,132.9 234.5,134.4 233.5,135.9 232.5,137.5 231.5,139.1 230.5,140.7 229.5,142.3 228.5,143.9 227.5,145.5 226.5,147.1 225.5,148.7 224.5,150.3 223.5,152.0 222.5,153.7 221.5,155.4 220.5,157.2 219.5,158.9 218.5,160.7 217.5,162.6 216.5,164.4 215.5,166.1 214.5,167.9 213.5,169.7 212.5,171.4 211.5,173.0 210.5,174.7 209.5,176.2 208.5,177.7 207.5,179.1 206.5,180.5 205.5,181.8 204.5,183.1 203.5,184.4 202.5,185.6 201.5,186.8 200.5,188.0 199.5,189.2 198.5,190.4 197.5,191.5 196.5,192.6 195.5,193.7 194.5,194.8 193.5,195.9 192.5,197.0 191.5,198.1 190.5,199.2 189.5,200.3 188.5,201.4 187.5,202.5 186.5,203.6 185.5,204.8 184.5,206.0 183.5,207.2 182.5,208.4 181.5,209.7 180.5,210.9 179.5,212.2 178.5,213.5 177.5,214.8 176.5,216.0 175.5,217.3 174.5,218.6 173.5,219.8 172.5,220.9 171.5,222.1 170.5,223.3 169.5,224.4 168.5,225.6 167.5,226.8 166.5,228.0 165.5,229.3 164.5,230.6 163.5,232.1 162.5,233.6 161.5,235.2 160.5,237.0 159.5,238.8 158.5,240.7 157.5,242.5 156.5,244.4 155.5,246.3 154.5,248.2 153.5,250.2 152.5,252.1 151.5,254.1 150.5,256.1 149.5,258.1 148.5,260.0 147.5,262.0 146.5,264.0 145.5,265.9 144.5,267.8 143.5,269.7 142.5,271.6 141.5,273.4 140.5,275.3 139.5,277.1 138.5,278.9 137.5,280.6 136.5,282.4 135.5,284.2 134.5,285.9 133.5,287.7 132.5,289.4 131.5,291.1 130.5,292.8 129.5,294.5 128.5,296.2 127.5,297.9 126.5,299.5 125.5,301.2 124.5,302.8 123.5,304.5 122.5,306.1 121.5,307.8 120.5,309.5 119.5,311.1 118.5,312.7 117.5,314.3 116.5,315.9 115.5,317.4 114.5,318.9 113.5,320.3 112.5,321.6 111.5,322.9 110.5,324.2 109.5,325.5 108.5,326.7 107.5,327.8 106.5,328.7 105.5,329.4 104.5,329.9 103.5,330.4 102.5,330.8 101.5,331.2 100.5,331.5 99.5,331.9 98.5,332.2 97.5,332.5 96.5,332.7 95.5,333.0 94.5,333.2 93.5,333.5 92.5,333.7 91.5,334.0 90.5,334.2 89.5,334.4 88.5,334.6 87.5,334.8 86.5,336.0 85.5,336.0 84.5,336.0 83.5,336.0 82.5,336.0 81.5,336.0 80.5,336.0 79.5,336.0 78.5,336.0 77.5,336.0 76.5,336.0 75.5,336.0"/>
<polygon fill="#388eea" stroke="#1e7fe6" stroke-width="2.0" points="75.5,336.0 76.5,336.0 77.5,335.9 78.5,335.8 79.5,335.7 80.5,335.6 81.5,335.5 82.5,335.4 83.5,335.3 84.5,334.9 85.5,334.8 86.5,334.7 87.5,334.5 88.5,334.3 89.5,334.1 90.5,333.9 91.5,333.7 92.5,333.4 93.5,333.1 94.5,332.9 95.5,332.6 96.5,332.3 97.5,332.0 98.5,331.7 99.5,331.4 100.5,331.1 101.5,330.7 102.5,330.3 103.5,329.8 104.5,329.3 105.5,328.8 106.5,328.0 107.5,327.1 108.5,325.9 109.5,324.6 110.5,323.2 111.5,321.8 112.5,320.4 113.5,318.9 114.5,317.4 115.5,315.8 116.5,314.1 117.5,312.4 118.5,310.5 119.5,308.6 120.5,306.5 121.5,304.5 122.5,302.4 123.5,300.3 124.5,298.3 125.5,296.2 126.5,294.2 127.5,292.2 128.5,290.2 129.5,288.1 130.5,286.1 131.5,284.0 132.5,282.0 133.5,279.9 134.5,277.9 135.5,275.8 136.5,273.7 137.5,271.6 138.5,269.6 139.5,267.5 140.5,265.4 141.5,263.3 142.5,261.2 143.5,259.1 144.5,257.0 145.5,254.9 146.5,252.9 147.5,250.8 148.5,248.7 149.5,246.7 150.5,244.6 151.5,242.5 152.5,240.4 153.5,238.3 154.5,236.2 155.5,234.0 156.5,231.8 157.5,229.6 158.5,227.3 159.5,225.0 160.5,222.5 161.5,219.8 162.5,217.1 163.5,214.4 164.5,212.2 165.5,210.4 166.5,208.7 167.5,207.1 168.5,205.6 169.5,204.2 170.5,202.9 171.5,201.6 172.5,200.4 173.5,199.2 174.5,198.0 175.5,196.8 176.5,195.7 177.5,194.5 178.5,193.5 179.5,192.5 180.5,191.5 181.5,190.5 182.5,189.6 183.5,188.6 184.5,187.5 185.5,186.4 186.5,185.2 187.5,183.9 188.5,182.4 189.5,180.9 190.5,179.3 191.5,177.7 192.5,176.1 193.5,174.4 194.5,172.7 195.5,171.0 196.5,169.3 197.5,167.5 198.5,165.7 199.5,163.9 200.5,162.1 201.5,160.2 202.5,158.4 203.5,156.5 204.5,154.6 205.5,152.8 206.5,150.9 207.5,149.1 208.5,147.3 209.5,145.5 210.5,143.7 211.5,141.9 212.5,140.1 213.5,138.2 214.5,136.4 215.5,134.6 216.5,132.8 217.5,131.0 218.5,129.2 219.5,127.4 220.5,125.6 221.5,123.8 222.5,122.1 223.5,120.4 224.5,118.7 225.5,117.0 226.5,115.4 227.5,113.8 228.5,112.2 229.5,110.7 230.5,109.1 231.5,107.6 232.5,106.1 233.5,104.7 234.5,103.2 235.5,101.7 236.5,100.3 237.5,98.9 238.5,97.4 239.5,96.0 240.5,94.6 241.5,93.2 242.5,91.8 243.5,90.4 244.5,89.0 245.5,87.6 246.5,86.2 247.5,84.7 248.5,83.3 249.5,81.8 250.5,80.4 251.5,79.0 252.5,77.6 253.5,76.2 254.5,74.9 255.5,73.6 256.5,72.4 257.5,71.2 258.5,70.1 259.5,69.0 260.5,68.0 261.5,67.1 262.5,66.1 263.5,65.3 264.5,64.4 265.5,63.5 266.5,62.7 267.5,61.9 268.5,61.2 269.5,60.4 270.5,59.7 271.5,59.0 272.5,58.3 273.5,57.6 274.5,56.9 275.5,56.3 276.5,55.7 277.5,55.1 278.5,54.4 279.5,53.8 280.5,53.3 281.5,52.7 282.5,52.1 283.5,51.6 284.5,51.0 285.5,50.5 286.5,50.0 287.5,49.5 288.5,49.0 289.5,48.6 290.5,48.1 291.5,47.7 292.5,47.3 293.5,47.0 294.5,46.6 295.5,46.3 296.5,45.9 297.5,45.6 298.5,45.3 299.5,45.0 300.5,44.7 301.5,44.4 302.5,44.1 303.5,43.9 304.5,43.6 305.5,43.4 306.5,43.2 307.5,43.0 308.5,42.8 309.5,42.6 310.5,42.4 311.5,42.3 312.5,42.1 313.5,41.9 314.5,41.8 315.5,41.6 316.5,41.4 317.5,41.3 318.5,41.2 319.5,41.0 320.5,40.9 321.5,40.8 322.5,40.7 323.5,40.7 324.5,40.6 325.5,40.6 326.5,40.6 327.5,40.6 328.5,40.6 329.5,40.6 330.5,40.6 331.5,40.6 332.5,40.6 333.5,40.6 334.5,40.6 335.5,40.6 336.5,40.6 337.5,40.6 338.5,40.6 339.5,40.6 340.5,40.6 341.5,40.6 342.5,40.6 343.5,40.6 344.5,40.6 345.5,40.6 346.5,40.6 347.5,40.6 348.5,40.6 349.5,40.6 350.5,40.7 351.5,40.7 352.5,40.7 353.5,40.7 354.5,40.7 355.5,40.7 356.5,40.7 357.5,40.8 358.5,40.8 359.5,40.8 360.5,40.8 361.5,40.8 362.5,40.8 363.5,40.9 364.5,40.9 365.5,40.9 366.5,40.9 367.5,40.9 368.5,40.9 369.5,40.9 370.5,41.0 371.5,41.0 372.5,41.0 373.5,41.0 374.5,41.0 375.5,41.0 376.5,41.0 377.5,41.0 378.5,41.0 379.5,41.0 380.5,41.0 381.5,41.0 382.5,41.0 383.5,41.0 384.5,41.0 385.5,41.0 386.5,41.0 387.5,41.0 388.5,41.0 389.5,41.0 390.5,41.0 391.5,41.0 392.5,41.0 393.5,41.0 394.5,41.0 395.5,41.0 396.5,41.0 397.5,41.0 398.5,41.0 399.5,41.0 400.5,41.0 401.5,41.0 402.5,41.0 403.5,41.0 404.5,41.1 405.5,41.1 406.5,41.1 407.5,41.1 408.5,41.1 409.5,41.1 410.5,41.1 411.5,41.1 412.5,41.1 413.5,41.1 414.5,41.1 415.5,41.1 416.5,41.1 417.5,41.1 418.5,41.1 419.5,41.1 420.5,41.1 421.5,41.1 422.5,41.1 423.5,41.1 424.5,41.1 425.5,41.1 426.5,41.1 427.5,41.1 428.5,41.1 429.5,41.1 430.5,41.1 431.5,41.1 432.5,41.1 433.5,41.1 434.5,41.1 435.5,41.1 436.5,41.1 437.5,41.1 438.5,41.1 439.5,41.1 440.5,41.1 441.5,41.1 442.5,41.1 443.5,41.1 444.5,41.1 445.5,41.1 446.5,41.1 447.5,41.1 448.5,41.1 449.5,41.1 450.5,41.1 451.5,41.1 452.5,41.1 453.5,41.1 454.5,41.1 455.5,41.1 456.5,41.1 457.5,41.1 458.5,41.1 459.5,41.1 460.5,41.1 461.5,41.1 462.5,41.1 463.5,41.1 464.5,41.1 465.5,41.1 466.5,41.1 467.5,41.1 468.5,41.1 469.5,41.1 470.5,41.1 471.5,41.1 472.5,41.1 473.5,41.1 474.5,41.1 475.5,41.1 476.5,41.1 476.5,54.6 475.5,54.6 474.5,54.6 473.5,54.6 472.5,54.6 471.5,54.6 470.5,54.6 469.5,54.6 468.5,54.6 467.5,54.6 466.5,54.6 465.5,54.6 464.5,54.6 463.5,54.6 462.5,54.6 461.5,54.6 460.5,54.6 459.5,54.6 458.5,54.6 457.5,54.6 456.5,54.6 455.5,54.6 454.5,54.6 453.5,54.6 452.5,54.6 451.5,54.6 450.5,54.6 449.5,54.6 448.5,54.6 447.5,54.6 446.5,54.6 445.5,54.6 444.5,54.5 443.5,54.5 442.5,54.5 441.5,54.5 440.5,54.5 439.5,54.5 438.5,54.5 437.5,54.5 436.5,54.5 435.5,54.5 434.5,54.5 433.5,54.5 432.5,54.5 431.5,54.5 430.5,54.5 429.5,54.5 428.5,54.5 427.5,54.5 426.5,54.5 425.5,54.5 424.5,54.5 423.5,54.5 422.5,54.5 421.5,54.5 420.5,54.5 419.5,54.4 418.5,54.4 417.5,54.4 416.5,54.4 415.5,54.4 414.5,54.4 413.5,54.4 412.5,54.4 411.5,54.4 410.5,54.4 409.5,54.4 408.5,54.4 407.5,54.4 406.5,54.4 405.5,54.4 404.5,54.4 403.5,54.4 402.5,54.4 401.5,54.3 400.5,54.3 399.5,54.3 398.5,54.3 397.5,54.3 396.5,54.3 395.5,54.3 394.5,54.3 393.5,54.3 392.5,54.2 391.5,54.2 390.5,54.2 389.5,54.2 388.5,54.2 387.5,54.2 386.5,54.2 385.5,54.1 384.5,54.1 383.5,54.1 382.5,54.1 381.5,54.1 380.5,54.1 379.5,54.1 378.5,54.0 377.5,54.0 376.5,54.0 375.5,54.0 374.5,54.0 373.5,53.9 372.5,53.9 371.5,53.9 370.5,53.9 369.5,53.8 368.5,53.8 367.5,53.7 366.5,53.7 365.5,53.7 364.5,53.6 363.5,53.6 362.5,53.5 361.5,53.5 360.5,53.5 359.5,53.4 358.5,53.4 357.5,53.3 356.5,53.3 355.5,53.3 354.5,53.2 353.5,53.2 352.5,53.2 351.5,53.1 350.5,53.1 349.5,53.1 348.5,53.1 347.5,53.0 346.5,53.0 345.5,53.0 344.5,53.0 343.5,53.0 342.5,53.0 341.5,53.0 340.5,53.0 339.5,53.0 338.5,53.0 337.5,53.0 336.5,53.1 335.5,53.1 334.5,53.1 333.5,53.1 332.5,53.2 331.5,53.2 330.5,53.2 329.5,53.3 328.5,53.3 327.5,53.3 326.5,53.4 325.5,53.4 324.5,53.5 323.5,53.6 322.5,53.6 321.5,53.7 320.5,53.8 319.5,54.0 318.5,54.1 317.5,54.2 316.5,54.4 315.5,54.5 314.5,54.7 313.5,54.8 312.5,55.0 311.5,55.1 310.5,55.3 309.5,55.5 308.5,55.6 307.5,55.8 306.5,56.0 305.5,56.2 304.5,56.5 303.5,56.7 302.5,56.9 301.5,57.2 300.5,57.5 299.5,57.7 298.5,58.0 297.5,58.3 296.5,58.6 295.5,58.9 294.5,59.2 293.5,59.5 292.5,59.8 291.5,60.1 290.5,60.5 289.5,60.8 288.5,61.1 287.5,61.5 286.5,61.9 285.5,62.2 284.5,62.6 283.5,63.0 282.5,63.5 281.5,63.9 280.5,64.4 279.5,64.8 278.5,65.3 277.5,65.8 276.5,66.4 275.5,66.9 274.5,67.5 273.5,68.2 272.5,68.9 271.5,69.7 270.5,70.5 269.5,71.3 268.5,72.2 267.5,73.1 266.5,74.1 265.5,75.1 264.5,76.0 263.5,77.1 262.5,78.1 261.5,79.1 260.5,80.1 259.5,81.2 258.5,82.2 257.5,83.2 256.5,84.3 255.5,85.3 254.5,86.4 253.5,87.5 252.5,88.6 251.5,89.8 250.5,90.9 249.5,92.1 248.5,93.3 247.5,94.5 246.5,95.8 245.5,97.0 244.5,98.3 243.5,99.6 242.5,100.9 241.5,102.3 240.5,103.7 239.5,105.1 238.5,106.5 237.5,108.0 236.5,109.6 235.5,111.1 234.5,112.7 233.5,114.3 232.5,115.9 231.5,117.5 230.5,119.2 229.5,120.8 228.5,122.5 227.5,124.2 226.5,125.8 225.5,127.5 224.5,129.1 223.5,130.8 222.5,132.5 221.5,134.3 220.5,136.0 219.5,137.8 218.5,139.6 217.5,141.4 216.5,143.2 215.5,145.0 214.5,146.8 213.5,148.5 212.5,150.3 211.5,152.1 210.5,153.8 209.5,155.5 208.5,157.2 207.5,158.8 206.5,160.5 205.5,162.2 204.5,163.9 203.5,165.5 202.5,167.2 201.5,168.8 200.5,170.5 199.5,172.1 198.5,173.7 197.5,175.3 196.5,176.8 195.5,178.3 194.5,179.8 193.5,181.2 192.5,182.6 191.5,183.9 190.5,185.1 189.5,186.3 188.5,187.4 187.5,188.6 186.5,189.7 185.5,190.8 184.5,191.9 183.5,193.1 182.5,194.3 181.5,195.4 180.5,196.5 179.5,197.7 178.5,198.9 177.5,200.1 176.5,201.4 175.5,202.7 174.5,204.0 173.5,205.4 172.5,206.8 171.5,208.3 170.5,209.7 169.5,211.3 168.5,212.8 167.5,214.4 166.5,216.1 165.5,217.8 164.5,219.5 163.5,221.3 162.5,223.2 161.5,225.2 160.5,227.4 159.5,229.6 158.5,231.8 157.5,233.9 156.5,236.0 155.5,238.0 154.5,240.0 153.5,242.1 152.5,244.1 151.5,246.1 150.5,248.1 149.5,250.1 148.5,252.1 147.5,254.0 146.5,256.0 145.5,258.0 144.5,260.0 143.5,262.0 142.5,263.9 141.5,265.9 140.5,267.9 139.5,269.9 138.5,272.0 137.5,274.0 136.5,276.0 135.5,278.0 134.5,280.1 133.5,282.1 132.5,284.1 131.5,286.1 130.5,288.1 129.5,290.1 128.5,292.0 127.5,293.9 126.5,295.8 125.5,297.7 124.5,299.6 123.5,301.4 122.5,303.3 121.5,305.1 120.5,307.0 119.5,308.8 118.5,310.6 117.5,312.4 116.5,314.1 115.5,315.8 114.5,317.4 113.5,318.9 112.5,320.4 111.5,321.8 110.5,323.2 109.5,324.6 108.5,325.9 107.5,327.1 106.5,328.0 105.5,328.8 104.5,329.3 103.5,329.8 102.5,330.3 101.5,330.7 100.5,331.1 99.5,331.4 98.5,331.7 97.5,332.0 96.5,332.3 95.5,332.6 94.5,332.9 93.5,333.1 92.5,333.4 91.5,333.7 90.5,333.9 89.5,334.1 88.5,334.3 87.5,334.5 86.5,334.7 85.5,334.8 84.5,334.9 83.5,336.0 82.5,336.0 81.5,336.0 80.5,336.0 79.5,336.0 78.5,336.0 77.5,336.0 76.5,336.0 75.5,336.0"/>
</g>
<rect x="75.70" y="32.05" width="400.85" height="304.05" fill="none" stroke="#000" stroke-width="1.6"/>
<path d="M75.70 336.10v6.4 M142.51 336.10v6.4 M209.32 336.10v6.4 M276.12 336.10v6.4 M342.93 336.10v6.4 M409.74 336.10v6.4 M476.55 336.10v6.4 M75.70 336.10h6.4 M476.55 336.10h-6.4 M75.70 287.12h6.4 M476.55 287.12h-6.4 M75.70 238.13h6.4 M476.55 238.13h-6.4 M75.70 189.15h6.4 M476.55 189.15h-6.4 M75.70 140.16h6.4 M476.55 140.16h-6.4 M75.70 91.18h6.4 M476.55 91.18h-6.4 M75.70 42.19h6.4 M476.55 42.19h-6.4" stroke="#000" stroke-width="1.5" fill="none"/>
<g font-size="18.06" fill="#000">
<text x="75.2" y="362.4" text-anchor="middle">1990</text>
<text x="142.0" y="362.4" text-anchor="middle">2000</text>
<text x="208.9" y="362.4" text-anchor="middle">2010</text>
<text x="275.7" y="362.4" text-anchor="middle">2020</text>
<text x="342.5" y="362.4" text-anchor="middle">2030</text>
<text x="409.4" y="362.4" text-anchor="middle">2040</text>
<text x="476.2" y="362.4" text-anchor="middle">2050</text>
<text x="68.9" y="342.5" text-anchor="end">0</text>
<text x="68.9" y="293.5" text-anchor="end">500</text>
<text x="68.9" y="244.5" text-anchor="end">1000</text>
<text x="68.9" y="195.5" text-anchor="end">1500</text>
<text x="68.9" y="146.6" text-anchor="end">2000</text>
<text x="68.9" y="97.6" text-anchor="end">2500</text>
<text x="68.9" y="48.6" text-anchor="end">3000</text>
<text x="276.1" y="385.5" font-size="16.67" letter-spacing="0.4" text-anchor="middle">Year</text>
<text transform="translate(18.4 184.65) rotate(-90)" text-anchor="middle">Cumulative Emission, Bank (Gg)</text>
</g>
<text x="275.3" y="20.7" font-size="21.5" text-anchor="middle" fill="#000">Life Cycle Evolution</text>
<g font-size="12.6" fill="#000">
<text x="342.7" y="51.9">Production Emission</text>
<text x="342.7" y="71.5">Solvent Emission</text>
<text x="342.7" y="106">Installation Emission</text>
<text x="342.7" y="163.0">Active Bank Emission</text>
<text x="342.7" y="208.6">Inactive Bank</text>
<text x="175.2" y="330.8">AB Domestic Refrig.</text>
<text transform="translate(160.3 275.4) rotate(-30.3)" fill="#fff">Active Bank (AB) Other</text>
<text transform="translate(166.5 291.5) rotate(-25)">AB Boardstock</text>
<text transform="translate(277 238.2) rotate(21)">AB Pipe-in-Pipe</text>
<text transform="translate(276.3 280.8) rotate(13)">AB Spray Foam</text>
<text transform="translate(309.5 321.6) rotate(4)">AB Discontinuous Panels</text>
</g>
<g font-size="10.75" fill="#000" text-anchor="end">
<text x="472.3" y="133.4">Decommissioning and Inactive</text>
<text x="472.3" y="144.6">Bank Emissions</text>
</g>
</svg>
</body>
</html>
